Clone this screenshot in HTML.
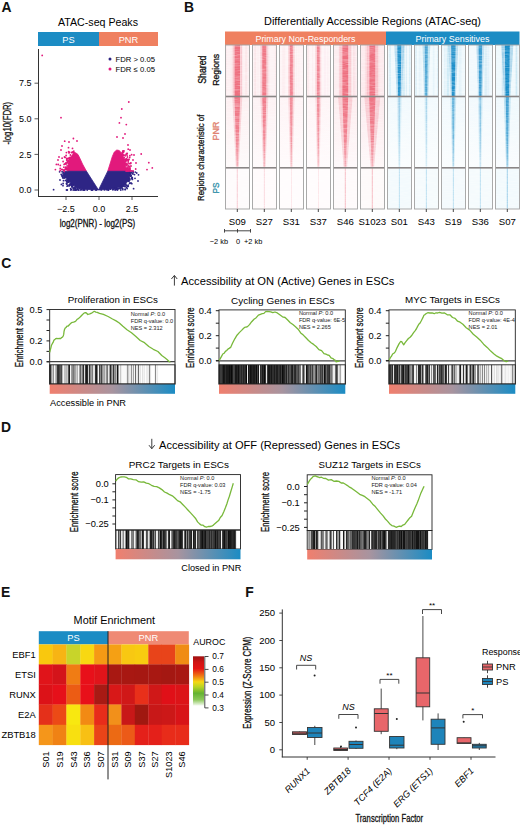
<!DOCTYPE html><html><head><meta charset="utf-8"><style>html,body{margin:0;padding:0;background:#fff;}svg{display:block;}text{font-family:"Liberation Sans",sans-serif;}</style></head><body>
<svg width="520" height="825" viewBox="0 0 520 825">
<defs>
<linearGradient id="gsea" x1="0" x2="1" y1="0" y2="0"><stop offset="0" stop-color="#f07f6e"/><stop offset="0.5" stop-color="#a8949f"/><stop offset="1" stop-color="#1b8cc4"/></linearGradient>
<linearGradient id="cbar" x1="0" x2="0" y1="0" y2="1"><stop offset="0" stop-color="#9e1212"/><stop offset="0.12" stop-color="#d01414"/><stop offset="0.25" stop-color="#e41414"/><stop offset="0.4" stop-color="#f07a14"/><stop offset="0.52" stop-color="#f5d814"/><stop offset="0.62" stop-color="#b8d424"/><stop offset="0.75" stop-color="#64b232"/><stop offset="0.88" stop-color="#8cc85a"/><stop offset="1" stop-color="#f4faf0"/></linearGradient>
<filter id="sblur" x="-0.2" y="-0.05" width="1.4" height="1.1"><feGaussianBlur stdDeviation="0.55 0.3"/></filter>
<filter id="nz0" x="0" y="0" width="1" height="1" filterUnits="objectBoundingBox"><feTurbulence type="fractalNoise" baseFrequency="0.12 0.9" numOctaves="2" seed="1" result="t"/><feColorMatrix in="t" type="matrix" values="0 0 0 0 1  0 0 0 0 1  0 0 0 0 1  0.7 0 0 0 -0.27"/></filter>
<filter id="nz1" x="0" y="0" width="1" height="1" filterUnits="objectBoundingBox"><feTurbulence type="fractalNoise" baseFrequency="0.12 0.9" numOctaves="2" seed="8" result="t"/><feColorMatrix in="t" type="matrix" values="0 0 0 0 1  0 0 0 0 1  0 0 0 0 1  0.7 0 0 0 -0.27"/></filter>
<filter id="nz2" x="0" y="0" width="1" height="1" filterUnits="objectBoundingBox"><feTurbulence type="fractalNoise" baseFrequency="0.12 0.9" numOctaves="2" seed="15" result="t"/><feColorMatrix in="t" type="matrix" values="0 0 0 0 1  0 0 0 0 1  0 0 0 0 1  0.7 0 0 0 -0.27"/></filter>
</defs>
<rect width="520" height="825" fill="#fff"/>
<text x="1.5" y="11.6" font-size="13.9" fill="#111" font-weight="bold">A</text>
<text x="183.9" y="11.8" font-size="13.9" fill="#111" font-weight="bold">B</text>
<text x="1.3" y="267.6" font-size="13.9" fill="#111" font-weight="bold">C</text>
<text x="1.1" y="431.5" font-size="13.9" fill="#111" font-weight="bold">D</text>
<text x="1.1" y="596.7" font-size="13.9" fill="#111" font-weight="bold">E</text>
<text x="245.2" y="596.7" font-size="13.9" fill="#111" font-weight="bold">F</text>
<text x="58" y="26" font-size="10.6" textLength="80" lengthAdjust="spacingAndGlyphs">ATAC-seq Peaks</text>
<rect x="38" y="32" width="61" height="14" fill="#1c8cc4"/>
<rect x="99" y="32" width="59" height="14" fill="#ef8060"/>
<text x="68.5" y="42.5" font-size="9.3" text-anchor="middle" fill="#fff">PS</text>
<text x="128.5" y="42.5" font-size="9.3" text-anchor="middle" fill="#fff">PNR</text>
<line x1="38.5" y1="49" x2="38.5" y2="197" stroke="#333" stroke-width="1"/>
<line x1="38" y1="196.5" x2="158" y2="196.5" stroke="#333" stroke-width="1"/>
<line x1="34.5" y1="190" x2="38.5" y2="190" stroke="#333" stroke-width="0.8"/>
<text x="31.5" y="193.2" font-size="9" text-anchor="end">0.0</text>
<line x1="34.5" y1="154.4" x2="38.5" y2="154.4" stroke="#333" stroke-width="0.8"/>
<text x="31.5" y="157.6" font-size="9" text-anchor="end">2.5</text>
<line x1="34.5" y1="118.8" x2="38.5" y2="118.8" stroke="#333" stroke-width="0.8"/>
<text x="31.5" y="122" font-size="9" text-anchor="end">5.0</text>
<line x1="34.5" y1="83.2" x2="38.5" y2="83.2" stroke="#333" stroke-width="0.8"/>
<text x="31.5" y="86.4" font-size="9" text-anchor="end">7.5</text>
<line x1="66" y1="196.5" x2="66" y2="200" stroke="#333" stroke-width="0.8"/>
<text x="66" y="211.7" font-size="9" text-anchor="middle">−2.5</text>
<line x1="99" y1="196.5" x2="99" y2="200" stroke="#333" stroke-width="0.8"/>
<text x="99" y="211.7" font-size="9" text-anchor="middle">0.0</text>
<line x1="132" y1="196.5" x2="132" y2="200" stroke="#333" stroke-width="0.8"/>
<text x="132" y="211.7" font-size="9" text-anchor="middle">2.5</text>
<text x="11.2" y="144.5" font-size="10.6" textLength="42.7" lengthAdjust="spacingAndGlyphs" transform="rotate(-90 11.2 144.5)" stroke="#222" stroke-width="0.3">-log10(FDR)</text>
<text x="97.5" y="227.3" font-size="10" text-anchor="middle" textLength="75.6" lengthAdjust="spacingAndGlyphs" stroke="#222" stroke-width="0.3">log2(PNR) - log2(PS)</text>
<circle cx="110" cy="59" r="1.5" fill="#2d2480"/>
<circle cx="110" cy="69" r="1.5" fill="#e2197c"/>
<text x="115.5" y="61.8" font-size="7.7" textLength="39.5" lengthAdjust="spacingAndGlyphs">FDR &gt; 0.05</text>
<text x="115.5" y="71.8" font-size="7.7" textLength="39.5" lengthAdjust="spacingAndGlyphs">FDR ≤ 0.05</text>
<polygon points="86.5,171.3 82.5,164 80,158.5 78,154.5 76,153 73.5,153.5 71,156.5 69,161 67.8,166 67.3,171.3" fill="#e2197c" stroke="#e2197c" stroke-width="0.8" stroke-linejoin="round"/>
<polygon points="64,171.3 86.5,171.3 98.5,190 83,189.2 76,187 71,183.5 67,179 64.8,175" fill="#2e2585" stroke="#2e2585" stroke-width="0.8" stroke-linejoin="round"/>
<polygon points="107.7,171.3 110.3,163 112.3,156.5 114.3,152 116.8,150 119.3,150.5 121.8,153.5 124,158.5 125.6,164.5 126.3,171.3" fill="#e2197c" stroke="#e2197c" stroke-width="0.8" stroke-linejoin="round"/>
<polygon points="98.5,190 107.7,171.3 130,171.3 130,176 128.3,181 124,185 117,188 108,189.5" fill="#2e2585" stroke="#2e2585" stroke-width="0.8" stroke-linejoin="round"/>
<circle cx="60.3" cy="165.4" r="0.9" fill="#e2197c"/>
<circle cx="73.9" cy="188.8" r="0.9" fill="#2e2585"/>
<circle cx="64.1" cy="164.4" r="0.9" fill="#e2197c"/>
<circle cx="69.4" cy="159.3" r="0.9" fill="#e2197c"/>
<circle cx="62.1" cy="171.7" r="0.9" fill="#2e2585"/>
<circle cx="64.5" cy="157" r="0.9" fill="#e2197c"/>
<circle cx="62.1" cy="158.2" r="0.9" fill="#e2197c"/>
<circle cx="63.9" cy="167.2" r="0.9" fill="#e2197c"/>
<circle cx="67.1" cy="165.9" r="0.9" fill="#e2197c"/>
<circle cx="68.4" cy="161" r="0.9" fill="#e2197c"/>
<circle cx="65.1" cy="157.4" r="0.9" fill="#e2197c"/>
<circle cx="67.3" cy="169.3" r="0.9" fill="#e2197c"/>
<circle cx="66.4" cy="169.1" r="0.9" fill="#e2197c"/>
<circle cx="74.8" cy="152.9" r="0.9" fill="#e2197c"/>
<circle cx="72.6" cy="184.8" r="0.9" fill="#2e2585"/>
<circle cx="73.5" cy="152.6" r="0.9" fill="#e2197c"/>
<circle cx="65.9" cy="177.6" r="0.9" fill="#2e2585"/>
<circle cx="66.7" cy="158.4" r="0.9" fill="#e2197c"/>
<circle cx="64.5" cy="174.8" r="0.9" fill="#2e2585"/>
<circle cx="92.6" cy="189.8" r="0.9" fill="#2e2585"/>
<circle cx="65.2" cy="163.7" r="0.9" fill="#e2197c"/>
<circle cx="63.1" cy="161.5" r="0.9" fill="#e2197c"/>
<circle cx="59.6" cy="171.8" r="0.9" fill="#2e2585"/>
<circle cx="92.3" cy="189.8" r="0.9" fill="#2e2585"/>
<circle cx="75.8" cy="186.9" r="0.9" fill="#2e2585"/>
<circle cx="67.9" cy="185.2" r="0.9" fill="#2e2585"/>
<circle cx="70.4" cy="155" r="0.9" fill="#e2197c"/>
<circle cx="66.7" cy="184" r="0.9" fill="#2e2585"/>
<circle cx="71.1" cy="184" r="0.9" fill="#2e2585"/>
<circle cx="66.7" cy="183.1" r="0.9" fill="#2e2585"/>
<circle cx="61.4" cy="184.4" r="0.9" fill="#2e2585"/>
<circle cx="63.7" cy="170.2" r="0.9" fill="#e2197c"/>
<circle cx="68" cy="161.2" r="0.9" fill="#e2197c"/>
<circle cx="77.6" cy="188.7" r="0.9" fill="#2e2585"/>
<circle cx="66.8" cy="180.1" r="0.9" fill="#2e2585"/>
<circle cx="73" cy="152.7" r="0.9" fill="#e2197c"/>
<circle cx="68.6" cy="151.7" r="0.9" fill="#e2197c"/>
<circle cx="74.8" cy="188" r="0.9" fill="#2e2585"/>
<circle cx="60.2" cy="168.4" r="0.9" fill="#e2197c"/>
<circle cx="68.5" cy="161.1" r="0.9" fill="#e2197c"/>
<circle cx="67.4" cy="170.3" r="0.9" fill="#e2197c"/>
<circle cx="64.2" cy="169.9" r="0.9" fill="#e2197c"/>
<circle cx="83.9" cy="189.3" r="0.9" fill="#2e2585"/>
<circle cx="68.8" cy="182" r="0.9" fill="#2e2585"/>
<circle cx="66.4" cy="163.9" r="0.9" fill="#e2197c"/>
<circle cx="69.6" cy="184.8" r="0.9" fill="#2e2585"/>
<circle cx="66.7" cy="168.6" r="0.9" fill="#e2197c"/>
<circle cx="68" cy="180.9" r="0.9" fill="#2e2585"/>
<circle cx="61.9" cy="174.9" r="0.9" fill="#2e2585"/>
<circle cx="69.5" cy="152.2" r="0.9" fill="#e2197c"/>
<circle cx="63.1" cy="183.5" r="0.9" fill="#2e2585"/>
<circle cx="77.9" cy="188.1" r="0.9" fill="#2e2585"/>
<circle cx="83" cy="189.8" r="0.9" fill="#2e2585"/>
<circle cx="64.3" cy="178" r="0.9" fill="#2e2585"/>
<circle cx="64.2" cy="175.3" r="0.9" fill="#2e2585"/>
<circle cx="68.8" cy="181.8" r="0.9" fill="#2e2585"/>
<circle cx="73.1" cy="187.9" r="0.9" fill="#2e2585"/>
<circle cx="67.1" cy="162.6" r="0.9" fill="#e2197c"/>
<circle cx="66.5" cy="183.6" r="0.9" fill="#2e2585"/>
<circle cx="63" cy="175.8" r="0.9" fill="#2e2585"/>
<circle cx="67.9" cy="182.3" r="0.9" fill="#2e2585"/>
<circle cx="63.1" cy="178.1" r="0.9" fill="#2e2585"/>
<circle cx="66.1" cy="155.5" r="0.9" fill="#e2197c"/>
<circle cx="69.6" cy="158" r="0.9" fill="#e2197c"/>
<circle cx="72.5" cy="148.4" r="0.9" fill="#e2197c"/>
<circle cx="65.6" cy="167.2" r="0.9" fill="#e2197c"/>
<circle cx="61.2" cy="174.4" r="0.9" fill="#2e2585"/>
<circle cx="75.7" cy="188.5" r="0.9" fill="#2e2585"/>
<circle cx="71.7" cy="184.3" r="0.9" fill="#2e2585"/>
<circle cx="67.1" cy="168.6" r="0.9" fill="#e2197c"/>
<circle cx="67.5" cy="158.6" r="0.9" fill="#e2197c"/>
<circle cx="72.7" cy="152.2" r="0.9" fill="#e2197c"/>
<circle cx="81.2" cy="189.4" r="0.9" fill="#2e2585"/>
<circle cx="69" cy="152.9" r="0.9" fill="#e2197c"/>
<circle cx="66.7" cy="160" r="0.9" fill="#e2197c"/>
<circle cx="68.3" cy="163.2" r="0.9" fill="#e2197c"/>
<circle cx="71" cy="185.2" r="0.9" fill="#2e2585"/>
<circle cx="64" cy="176.8" r="0.9" fill="#2e2585"/>
<circle cx="67.4" cy="179.6" r="0.9" fill="#2e2585"/>
<circle cx="70.7" cy="183.9" r="0.9" fill="#2e2585"/>
<circle cx="73.1" cy="152" r="0.9" fill="#e2197c"/>
<circle cx="70.6" cy="188.6" r="0.9" fill="#2e2585"/>
<circle cx="66" cy="168.5" r="0.9" fill="#e2197c"/>
<circle cx="65.1" cy="175.9" r="0.9" fill="#2e2585"/>
<circle cx="67.3" cy="169.1" r="0.9" fill="#e2197c"/>
<circle cx="66.9" cy="167.3" r="0.9" fill="#e2197c"/>
<circle cx="67.1" cy="186.2" r="0.9" fill="#2e2585"/>
<circle cx="69.7" cy="184.5" r="0.9" fill="#2e2585"/>
<circle cx="68.1" cy="181.9" r="0.9" fill="#2e2585"/>
<circle cx="65.9" cy="162.9" r="0.9" fill="#e2197c"/>
<circle cx="58.2" cy="164.5" r="0.9" fill="#e2197c"/>
<circle cx="78" cy="187.8" r="0.9" fill="#2e2585"/>
<circle cx="64.5" cy="176.9" r="0.9" fill="#2e2585"/>
<circle cx="73.4" cy="188.2" r="0.9" fill="#2e2585"/>
<circle cx="72.5" cy="185.9" r="0.9" fill="#2e2585"/>
<circle cx="72.1" cy="187" r="0.9" fill="#2e2585"/>
<circle cx="71.2" cy="189.3" r="0.9" fill="#2e2585"/>
<circle cx="66.4" cy="152.6" r="0.9" fill="#e2197c"/>
<circle cx="62.2" cy="169.6" r="0.9" fill="#e2197c"/>
<circle cx="68.5" cy="147.7" r="0.9" fill="#e2197c"/>
<circle cx="65.5" cy="180.4" r="0.9" fill="#2e2585"/>
<circle cx="70" cy="157.4" r="0.9" fill="#e2197c"/>
<circle cx="79.5" cy="188.3" r="0.9" fill="#2e2585"/>
<circle cx="69.5" cy="185.3" r="0.9" fill="#2e2585"/>
<circle cx="67.2" cy="162" r="0.9" fill="#e2197c"/>
<circle cx="72.7" cy="185.1" r="0.9" fill="#2e2585"/>
<circle cx="65.7" cy="177.4" r="0.9" fill="#2e2585"/>
<circle cx="66.7" cy="181.7" r="0.9" fill="#2e2585"/>
<circle cx="65" cy="164.1" r="0.9" fill="#e2197c"/>
<circle cx="68.2" cy="181.1" r="0.9" fill="#2e2585"/>
<circle cx="61.8" cy="169.3" r="0.9" fill="#e2197c"/>
<circle cx="68.3" cy="161.2" r="0.9" fill="#e2197c"/>
<circle cx="60.2" cy="170.5" r="0.9" fill="#e2197c"/>
<circle cx="76.9" cy="187.8" r="0.9" fill="#2e2585"/>
<circle cx="64.9" cy="177.2" r="0.9" fill="#2e2585"/>
<circle cx="71.6" cy="152.5" r="0.9" fill="#e2197c"/>
<circle cx="70.5" cy="183.7" r="0.9" fill="#2e2585"/>
<circle cx="63" cy="185.7" r="0.9" fill="#2e2585"/>
<circle cx="96.3" cy="190" r="0.9" fill="#2e2585"/>
<circle cx="72.5" cy="186.2" r="0.9" fill="#2e2585"/>
<circle cx="65.9" cy="169.6" r="0.9" fill="#e2197c"/>
<circle cx="72.5" cy="184.8" r="0.9" fill="#2e2585"/>
<circle cx="68.4" cy="158.5" r="0.9" fill="#e2197c"/>
<circle cx="72.5" cy="185.6" r="0.9" fill="#2e2585"/>
<circle cx="64.4" cy="174.5" r="0.9" fill="#2e2585"/>
<circle cx="73.6" cy="152.7" r="0.9" fill="#e2197c"/>
<circle cx="69" cy="186.1" r="0.9" fill="#2e2585"/>
<circle cx="75.1" cy="186.7" r="0.9" fill="#2e2585"/>
<circle cx="95.7" cy="189.9" r="0.9" fill="#2e2585"/>
<circle cx="62.7" cy="177.5" r="0.9" fill="#2e2585"/>
<circle cx="68" cy="180.7" r="0.9" fill="#2e2585"/>
<circle cx="71.7" cy="186.6" r="0.9" fill="#2e2585"/>
<circle cx="63.5" cy="180.7" r="0.9" fill="#2e2585"/>
<circle cx="64.4" cy="174.2" r="0.9" fill="#2e2585"/>
<circle cx="68.7" cy="158.4" r="0.9" fill="#e2197c"/>
<circle cx="72.4" cy="185" r="0.9" fill="#2e2585"/>
<circle cx="64.3" cy="171.3" r="0.9" fill="#e2197c"/>
<circle cx="66.9" cy="159.9" r="0.9" fill="#e2197c"/>
<circle cx="81.1" cy="188.8" r="0.9" fill="#2e2585"/>
<circle cx="70.3" cy="158" r="0.9" fill="#e2197c"/>
<circle cx="72.5" cy="185.1" r="0.9" fill="#2e2585"/>
<circle cx="77.2" cy="189.4" r="0.9" fill="#2e2585"/>
<circle cx="75.6" cy="189.6" r="0.9" fill="#2e2585"/>
<circle cx="74.7" cy="187.8" r="0.9" fill="#2e2585"/>
<circle cx="67.3" cy="179.5" r="0.9" fill="#2e2585"/>
<circle cx="63.7" cy="175" r="0.9" fill="#2e2585"/>
<circle cx="73.8" cy="151.2" r="0.9" fill="#e2197c"/>
<circle cx="65.3" cy="168.9" r="0.9" fill="#e2197c"/>
<circle cx="63.1" cy="173.5" r="0.9" fill="#2e2585"/>
<circle cx="62.6" cy="176.6" r="0.9" fill="#2e2585"/>
<circle cx="131.5" cy="170.8" r="0.9" fill="#e2197c"/>
<circle cx="129" cy="179.6" r="0.9" fill="#2e2585"/>
<circle cx="130.2" cy="170.1" r="0.9" fill="#e2197c"/>
<circle cx="121.3" cy="186.3" r="0.9" fill="#2e2585"/>
<circle cx="127.7" cy="168.2" r="0.9" fill="#e2197c"/>
<circle cx="115.9" cy="189.5" r="0.9" fill="#2e2585"/>
<circle cx="117.3" cy="189.1" r="0.9" fill="#2e2585"/>
<circle cx="117.3" cy="188.9" r="0.9" fill="#2e2585"/>
<circle cx="129.2" cy="170.5" r="0.9" fill="#e2197c"/>
<circle cx="125.1" cy="161" r="0.9" fill="#e2197c"/>
<circle cx="130.7" cy="175.7" r="0.9" fill="#2e2585"/>
<circle cx="116.4" cy="189.1" r="0.9" fill="#2e2585"/>
<circle cx="131.1" cy="175.6" r="0.9" fill="#2e2585"/>
<circle cx="128.8" cy="169.5" r="0.9" fill="#e2197c"/>
<circle cx="126.3" cy="168.3" r="0.9" fill="#e2197c"/>
<circle cx="101.3" cy="189.9" r="0.9" fill="#2e2585"/>
<circle cx="130" cy="167.8" r="0.9" fill="#e2197c"/>
<circle cx="122.5" cy="154.9" r="0.9" fill="#e2197c"/>
<circle cx="125.2" cy="155.8" r="0.9" fill="#e2197c"/>
<circle cx="124.4" cy="184.8" r="0.9" fill="#2e2585"/>
<circle cx="128.1" cy="160.5" r="0.9" fill="#e2197c"/>
<circle cx="129.9" cy="155.7" r="0.9" fill="#e2197c"/>
<circle cx="126" cy="154.6" r="0.9" fill="#e2197c"/>
<circle cx="130.2" cy="174" r="0.9" fill="#2e2585"/>
<circle cx="127.4" cy="186.4" r="0.9" fill="#2e2585"/>
<circle cx="117" cy="189.3" r="0.9" fill="#2e2585"/>
<circle cx="127.1" cy="169.7" r="0.9" fill="#e2197c"/>
<circle cx="113" cy="189.4" r="0.9" fill="#2e2585"/>
<circle cx="129" cy="170" r="0.9" fill="#e2197c"/>
<circle cx="128.6" cy="180.9" r="0.9" fill="#2e2585"/>
<circle cx="124.9" cy="186.5" r="0.9" fill="#2e2585"/>
<circle cx="129.3" cy="163.6" r="0.9" fill="#e2197c"/>
<circle cx="135.3" cy="172.1" r="0.9" fill="#2e2585"/>
<circle cx="128.4" cy="166" r="0.9" fill="#e2197c"/>
<circle cx="110.5" cy="189.2" r="0.9" fill="#2e2585"/>
<circle cx="114.9" cy="188.5" r="0.9" fill="#2e2585"/>
<circle cx="133" cy="174" r="0.9" fill="#2e2585"/>
<circle cx="134.5" cy="174.6" r="0.9" fill="#2e2585"/>
<circle cx="121.3" cy="186.7" r="0.9" fill="#2e2585"/>
<circle cx="127.8" cy="170.3" r="0.9" fill="#e2197c"/>
<circle cx="126.3" cy="165.1" r="0.9" fill="#e2197c"/>
<circle cx="118.4" cy="188.6" r="0.9" fill="#2e2585"/>
<circle cx="125.8" cy="160.3" r="0.9" fill="#e2197c"/>
<circle cx="127" cy="168.1" r="0.9" fill="#e2197c"/>
<circle cx="128" cy="163.8" r="0.9" fill="#e2197c"/>
<circle cx="121.7" cy="187.3" r="0.9" fill="#2e2585"/>
<circle cx="129.7" cy="180" r="0.9" fill="#2e2585"/>
<circle cx="121.4" cy="187.9" r="0.9" fill="#2e2585"/>
<circle cx="117.2" cy="188.4" r="0.9" fill="#2e2585"/>
<circle cx="129.7" cy="179.3" r="0.9" fill="#2e2585"/>
<circle cx="114.9" cy="188.7" r="0.9" fill="#2e2585"/>
<circle cx="125.7" cy="183.9" r="0.9" fill="#2e2585"/>
<circle cx="131.8" cy="183.7" r="0.9" fill="#2e2585"/>
<circle cx="125.8" cy="159.4" r="0.9" fill="#e2197c"/>
<circle cx="127.1" cy="155.1" r="0.9" fill="#e2197c"/>
<circle cx="116.4" cy="189" r="0.9" fill="#2e2585"/>
<circle cx="130.5" cy="163.5" r="0.9" fill="#e2197c"/>
<circle cx="104.5" cy="189.8" r="0.9" fill="#2e2585"/>
<circle cx="126.7" cy="159" r="0.9" fill="#e2197c"/>
<circle cx="113.7" cy="188.8" r="0.9" fill="#2e2585"/>
<circle cx="116.2" cy="189.3" r="0.9" fill="#2e2585"/>
<circle cx="125.1" cy="186.1" r="0.9" fill="#2e2585"/>
<circle cx="112.8" cy="189.7" r="0.9" fill="#2e2585"/>
<circle cx="129.1" cy="167.9" r="0.9" fill="#e2197c"/>
<circle cx="126.4" cy="187.4" r="0.9" fill="#2e2585"/>
<circle cx="129.6" cy="169" r="0.9" fill="#e2197c"/>
<circle cx="128.2" cy="149.2" r="0.9" fill="#e2197c"/>
<circle cx="125.9" cy="164.4" r="0.9" fill="#e2197c"/>
<circle cx="126.9" cy="185.6" r="0.9" fill="#2e2585"/>
<circle cx="129" cy="159.4" r="0.9" fill="#e2197c"/>
<circle cx="125.9" cy="163.2" r="0.9" fill="#e2197c"/>
<circle cx="131.6" cy="154.7" r="0.9" fill="#e2197c"/>
<circle cx="108.1" cy="189.8" r="0.9" fill="#2e2585"/>
<circle cx="121.4" cy="186.3" r="0.9" fill="#2e2585"/>
<circle cx="128.8" cy="181.3" r="0.9" fill="#2e2585"/>
<circle cx="125.3" cy="161.3" r="0.9" fill="#e2197c"/>
<circle cx="129.7" cy="157.5" r="0.9" fill="#e2197c"/>
<circle cx="135.7" cy="169" r="0.9" fill="#e2197c"/>
<circle cx="124.6" cy="159.4" r="0.9" fill="#e2197c"/>
<circle cx="120.7" cy="186.9" r="0.9" fill="#2e2585"/>
<circle cx="113.4" cy="188.7" r="0.9" fill="#2e2585"/>
<circle cx="116.6" cy="189.1" r="0.9" fill="#2e2585"/>
<circle cx="119.6" cy="186.9" r="0.9" fill="#2e2585"/>
<circle cx="129.7" cy="166.4" r="0.9" fill="#e2197c"/>
<circle cx="129.3" cy="178.7" r="0.9" fill="#2e2585"/>
<circle cx="128.3" cy="159.6" r="0.9" fill="#e2197c"/>
<circle cx="130.4" cy="174.4" r="0.9" fill="#2e2585"/>
<circle cx="126.5" cy="168.8" r="0.9" fill="#e2197c"/>
<circle cx="122.8" cy="152.1" r="0.9" fill="#e2197c"/>
<circle cx="130.9" cy="162.9" r="0.9" fill="#e2197c"/>
<circle cx="121.6" cy="186.4" r="0.9" fill="#2e2585"/>
<circle cx="125.2" cy="189.2" r="0.9" fill="#2e2585"/>
<circle cx="132.4" cy="179.4" r="0.9" fill="#2e2585"/>
<circle cx="133.2" cy="172" r="0.9" fill="#2e2585"/>
<circle cx="127" cy="165.8" r="0.9" fill="#e2197c"/>
<circle cx="129.7" cy="183.4" r="0.9" fill="#2e2585"/>
<circle cx="126.3" cy="170.9" r="0.9" fill="#e2197c"/>
<circle cx="117.4" cy="189" r="0.9" fill="#2e2585"/>
<circle cx="122.2" cy="186.3" r="0.9" fill="#2e2585"/>
<circle cx="124.2" cy="157.7" r="0.9" fill="#e2197c"/>
<circle cx="130.2" cy="173.3" r="0.9" fill="#2e2585"/>
<circle cx="128.1" cy="167.1" r="0.9" fill="#e2197c"/>
<circle cx="123.7" cy="186" r="0.9" fill="#2e2585"/>
<circle cx="127.4" cy="157" r="0.9" fill="#e2197c"/>
<circle cx="123.4" cy="155.5" r="0.9" fill="#e2197c"/>
<circle cx="122.5" cy="185.7" r="0.9" fill="#2e2585"/>
<circle cx="116.1" cy="188.7" r="0.9" fill="#2e2585"/>
<circle cx="126.1" cy="185.2" r="0.9" fill="#2e2585"/>
<circle cx="130.9" cy="176.3" r="0.9" fill="#2e2585"/>
<circle cx="122.2" cy="152.8" r="0.9" fill="#e2197c"/>
<circle cx="127.1" cy="164.3" r="0.9" fill="#e2197c"/>
<circle cx="126.1" cy="169" r="0.9" fill="#e2197c"/>
<circle cx="115.5" cy="188.5" r="0.9" fill="#2e2585"/>
<circle cx="132.3" cy="173.3" r="0.9" fill="#2e2585"/>
<circle cx="133" cy="171.4" r="0.9" fill="#2e2585"/>
<circle cx="119.8" cy="188.6" r="0.9" fill="#2e2585"/>
<circle cx="127.2" cy="159.6" r="0.9" fill="#e2197c"/>
<circle cx="120.6" cy="187.4" r="0.9" fill="#2e2585"/>
<circle cx="125.6" cy="163.5" r="0.9" fill="#e2197c"/>
<circle cx="125.5" cy="184.2" r="0.9" fill="#2e2585"/>
<circle cx="122.6" cy="188.4" r="0.9" fill="#2e2585"/>
<circle cx="131.4" cy="178.5" r="0.9" fill="#2e2585"/>
<circle cx="132.2" cy="177.7" r="0.9" fill="#2e2585"/>
<circle cx="128.6" cy="181.1" r="0.9" fill="#2e2585"/>
<circle cx="130.5" cy="173" r="0.9" fill="#2e2585"/>
<circle cx="128.2" cy="185.1" r="0.9" fill="#2e2585"/>
<circle cx="128.8" cy="171" r="0.9" fill="#e2197c"/>
<circle cx="123.6" cy="152.1" r="0.9" fill="#e2197c"/>
<circle cx="131.5" cy="172.4" r="0.9" fill="#2e2585"/>
<circle cx="128.2" cy="186.3" r="0.9" fill="#2e2585"/>
<circle cx="127.1" cy="188.5" r="0.9" fill="#2e2585"/>
<circle cx="122.7" cy="151.8" r="0.9" fill="#e2197c"/>
<circle cx="120.6" cy="186.9" r="0.9" fill="#2e2585"/>
<circle cx="125.9" cy="161.2" r="0.9" fill="#e2197c"/>
<circle cx="126.2" cy="158.8" r="0.9" fill="#e2197c"/>
<circle cx="108.3" cy="189.9" r="0.9" fill="#2e2585"/>
<circle cx="128.2" cy="162" r="0.9" fill="#e2197c"/>
<circle cx="133.6" cy="188.7" r="0.9" fill="#2e2585"/>
<circle cx="130.7" cy="175.8" r="0.9" fill="#2e2585"/>
<circle cx="122.8" cy="189.7" r="0.9" fill="#2e2585"/>
<circle cx="127.4" cy="171" r="0.9" fill="#e2197c"/>
<circle cx="128.3" cy="160.4" r="0.9" fill="#e2197c"/>
<circle cx="127.2" cy="153.3" r="0.9" fill="#e2197c"/>
<circle cx="130.5" cy="174.1" r="0.9" fill="#2e2585"/>
<circle cx="122.8" cy="154.4" r="0.9" fill="#e2197c"/>
<circle cx="125.2" cy="189.7" r="0.9" fill="#2e2585"/>
<circle cx="124.2" cy="155.1" r="0.9" fill="#e2197c"/>
<circle cx="126.3" cy="170.9" r="0.9" fill="#e2197c"/>
<circle cx="122.9" cy="151.2" r="0.9" fill="#e2197c"/>
<circle cx="123.2" cy="150.8" r="0.9" fill="#e2197c"/>
<circle cx="130.5" cy="175.2" r="0.9" fill="#2e2585"/>
<circle cx="124" cy="150.9" r="0.9" fill="#e2197c"/>
<circle cx="127" cy="168.4" r="0.9" fill="#e2197c"/>
<circle cx="118.1" cy="188.5" r="0.9" fill="#2e2585"/>
<circle cx="126.3" cy="164.2" r="0.9" fill="#e2197c"/>
<circle cx="128.9" cy="169.3" r="0.9" fill="#e2197c"/>
<circle cx="132.3" cy="178.2" r="0.9" fill="#2e2585"/>
<circle cx="130.4" cy="171.2" r="0.9" fill="#e2197c"/>
<circle cx="122.6" cy="154" r="0.9" fill="#e2197c"/>
<circle cx="129.8" cy="183.2" r="0.9" fill="#2e2585"/>
<circle cx="130.2" cy="174.3" r="0.9" fill="#2e2585"/>
<circle cx="123.2" cy="185.8" r="0.9" fill="#2e2585"/>
<circle cx="126.4" cy="160.2" r="0.9" fill="#e2197c"/>
<circle cx="106.6" cy="189.7" r="0.9" fill="#2e2585"/>
<circle cx="127.9" cy="168.8" r="0.9" fill="#e2197c"/>
<circle cx="122.5" cy="152.6" r="0.9" fill="#e2197c"/>
<circle cx="126.5" cy="153.7" r="0.9" fill="#e2197c"/>
<circle cx="130" cy="168.9" r="0.9" fill="#e2197c"/>
<circle cx="120.4" cy="188" r="0.9" fill="#2e2585"/>
<circle cx="132.2" cy="177.7" r="0.9" fill="#2e2585"/>
<circle cx="67.3" cy="190" r="0.9" fill="#2e2585"/>
<circle cx="75.5" cy="190" r="0.9" fill="#2e2585"/>
<circle cx="120.8" cy="190" r="0.9" fill="#2e2585"/>
<circle cx="84.2" cy="190" r="0.9" fill="#2e2585"/>
<circle cx="80.9" cy="190" r="0.9" fill="#2e2585"/>
<circle cx="117.5" cy="190" r="0.9" fill="#2e2585"/>
<circle cx="66.5" cy="190" r="0.9" fill="#2e2585"/>
<circle cx="83.3" cy="190" r="0.9" fill="#2e2585"/>
<circle cx="78.9" cy="190" r="0.9" fill="#2e2585"/>
<circle cx="108.5" cy="190" r="0.9" fill="#2e2585"/>
<circle cx="87.2" cy="190" r="0.9" fill="#2e2585"/>
<circle cx="115.1" cy="190" r="0.9" fill="#2e2585"/>
<circle cx="84.7" cy="190" r="0.9" fill="#2e2585"/>
<circle cx="73.2" cy="190" r="0.9" fill="#2e2585"/>
<circle cx="91.9" cy="190" r="0.9" fill="#2e2585"/>
<circle cx="70.9" cy="190" r="0.9" fill="#2e2585"/>
<circle cx="74.7" cy="190" r="0.9" fill="#2e2585"/>
<circle cx="78.2" cy="190" r="0.9" fill="#2e2585"/>
<circle cx="76.2" cy="190" r="0.9" fill="#2e2585"/>
<circle cx="91.4" cy="190" r="0.9" fill="#2e2585"/>
<circle cx="42.2" cy="55.4" r="0.9" fill="#e2197c"/>
<circle cx="61" cy="117.7" r="0.9" fill="#e2197c"/>
<circle cx="128.8" cy="102" r="0.9" fill="#e2197c"/>
<circle cx="121.8" cy="109" r="0.9" fill="#e2197c"/>
<circle cx="121" cy="117.7" r="0.9" fill="#e2197c"/>
<circle cx="126.3" cy="124.6" r="0.9" fill="#e2197c"/>
<circle cx="119.4" cy="122.9" r="0.9" fill="#e2197c"/>
<circle cx="141.2" cy="154" r="0.9" fill="#e2197c"/>
<circle cx="148.8" cy="162.7" r="0.9" fill="#e2197c"/>
<circle cx="152.3" cy="167.9" r="0.9" fill="#e2197c"/>
<circle cx="147" cy="169.6" r="0.9" fill="#e2197c"/>
<circle cx="53.6" cy="189.7" r="0.9" fill="#2e2585"/>
<circle cx="63.3" cy="172.4" r="0.9" fill="#2e2585"/>
<circle cx="73.4" cy="138.5" r="0.9" fill="#e2197c"/>
<circle cx="64.7" cy="141.2" r="0.9" fill="#e2197c"/>
<circle cx="56.4" cy="164.4" r="0.9" fill="#e2197c"/>
<circle cx="55.4" cy="169.6" r="0.9" fill="#e2197c"/>
<circle cx="136.7" cy="173" r="0.9" fill="#2e2585"/>
<circle cx="138.5" cy="174.8" r="0.9" fill="#2e2585"/>
<circle cx="135" cy="178.3" r="0.9" fill="#2e2585"/>
<circle cx="125" cy="134" r="0.9" fill="#e2197c"/>
<circle cx="117" cy="137" r="0.9" fill="#e2197c"/>
<circle cx="130" cy="150" r="0.9" fill="#e2197c"/>
<circle cx="133" cy="160" r="0.9" fill="#e2197c"/>
<circle cx="136" cy="163" r="0.9" fill="#e2197c"/>
<circle cx="131" cy="166" r="0.9" fill="#e2197c"/>
<circle cx="58" cy="160" r="0.9" fill="#e2197c"/>
<circle cx="61" cy="150" r="0.9" fill="#e2197c"/>
<circle cx="69" cy="142" r="0.9" fill="#e2197c"/>
<circle cx="77" cy="141" r="0.9" fill="#e2197c"/>
<circle cx="62" cy="176" r="0.9" fill="#2e2585"/>
<circle cx="133" cy="171" r="0.9" fill="#e2197c"/>
<circle cx="138" cy="181" r="0.9" fill="#2e2585"/>
<circle cx="131" cy="183" r="0.9" fill="#2e2585"/>
<circle cx="60" cy="180" r="0.9" fill="#2e2585"/>
<circle cx="123" cy="138" r="0.9" fill="#e2197c"/>
<circle cx="128" cy="145" r="0.9" fill="#e2197c"/>
<circle cx="134" cy="155" r="0.9" fill="#e2197c"/>
<circle cx="59" cy="157" r="0.9" fill="#e2197c"/>
<circle cx="62" cy="146" r="0.9" fill="#e2197c"/>
<text x="264" y="25.4" font-size="10.9" textLength="217" lengthAdjust="spacingAndGlyphs">Differentially Accessible Regions (ATAC-seq)</text>
<rect x="225" y="31.5" width="161" height="13.5" fill="#ef8060"/>
<rect x="386" y="31.5" width="133.5" height="13.5" fill="#1c8cc4"/>
<text x="305.5" y="41.6" font-size="8.9" text-anchor="middle" fill="#fff" textLength="100" lengthAdjust="spacingAndGlyphs">Primary Non-Responders</text>
<text x="452.5" y="41.6" font-size="8.9" text-anchor="middle" fill="#fff" textLength="74" lengthAdjust="spacingAndGlyphs">Primary Sensitives</text>
<text x="205.8" y="83.8" font-size="10" textLength="28.3" lengthAdjust="spacingAndGlyphs" transform="rotate(-90 205.8 83.8)" stroke="#222" stroke-width="0.3">Shared</text>
<text x="218.9" y="85.8" font-size="9.7" textLength="32" lengthAdjust="spacingAndGlyphs" transform="rotate(-90 218.9 85.8)" stroke="#222" stroke-width="0.3">Regions</text>
<text x="204.2" y="201" font-size="9.8" textLength="86.4" lengthAdjust="spacingAndGlyphs" transform="rotate(-90 204.2 201)" stroke="#222" stroke-width="0.3">Regions characteristic of</text>
<text x="218.8" y="140.5" font-size="9.2" fill="#e0806e" textLength="19" lengthAdjust="spacingAndGlyphs" transform="rotate(-90 218.8 140.5)" stroke="#e0806e" stroke-width="0.3">PNR</text>
<text x="218.8" y="193.5" font-size="9.2" fill="#2f8ea8" textLength="11" lengthAdjust="spacingAndGlyphs" transform="rotate(-90 218.8 193.5)" stroke="#2f8ea8" stroke-width="0.3">PS</text>
<rect x="225.5" y="45" width="24" height="51.5" fill="#fdf0f2"/>
<linearGradient id="v0" x1="0" x2="0" y1="0" y2="1"><stop offset="0" stop-color="#fdeff1"/><stop offset="1" stop-color="#fefafa"/></linearGradient>
<rect x="225.5" y="96.5" width="24" height="71.3" fill="url(#v0)"/>
<rect x="225.5" y="167.8" width="24" height="41.2" fill="#fefbfc"/>
<clipPath id="cc0"><rect x="225.5" y="45" width="24" height="164"/></clipPath>
<g clip-path="url(#cc0)"><g filter="url(#sblur)">
<rect x="236.3" y="45" width="1.7" height="51.5" fill="#ee7080" opacity="0.04"/>
<rect x="225.8" y="45" width="0.9" height="51.5" fill="#ee7080" opacity="0.07"/>
<rect x="241.3" y="45" width="1" height="51.5" fill="#ee7080" opacity="0.05"/>
<rect x="232.4" y="45" width="2.1" height="51.5" fill="#ee7080" opacity="0.05"/>
<rect x="241.6" y="45" width="0.9" height="51.5" fill="#ee7080" opacity="0.04"/>
<rect x="230.6" y="45" width="1.7" height="51.5" fill="#ee7080" opacity="0.06"/>
<rect x="245.1" y="45" width="2" height="51.5" fill="#ee7080" opacity="0.07"/>
<polygon points="232.6,45 242.1,45 242.1,96.5 232.6,96.5" fill="#ee7080" opacity="0.30"/>
<polygon points="234.6,45 240,45 240,96.5 234.6,96.5" fill="#ee7080" opacity="1.00"/>
<polygon points="232.3,96.5 242.3,96.5 238.8,166.8 235.8,166.8" fill="#ee7080" opacity="0.27"/>
<linearGradient id="wg0" x1="0" x2="0" y1="0" y2="1"><stop offset="0" stop-color="#ee7080" stop-opacity="0.95"/><stop offset="0.6" stop-color="#ee7080" stop-opacity="0.81"/><stop offset="1" stop-color="#ee7080" stop-opacity="0.38"/></linearGradient>
<polygon points="234.4,96.5 240.2,96.5 237.9,166.8 236.7,166.8" fill="url(#wg0)"/>
<rect x="236.8" y="167.8" width="1" height="41.2" fill="#ee7080" opacity="0.35"/>
</g></g>
<rect x="225.5" y="45" width="24" height="164" filter="url(#nz0)"/>
<line x1="225.5" y1="96.5" x2="249.5" y2="96.5" stroke="#8a8686" stroke-width="1.6"/>
<line x1="225.5" y1="167.8" x2="249.5" y2="167.8" stroke="#8a8686" stroke-width="1.6"/>
<rect x="225.5" y="45" width="24" height="164" fill="none" stroke="#a2a2a2" stroke-width="0.9"/>
<line x1="237.3" y1="209" x2="237.3" y2="212" stroke="#333" stroke-width="0.9"/>
<text x="237.3" y="225.2" font-size="9.6" text-anchor="middle">S09</text>
<rect x="252.5" y="45" width="24" height="51.5" fill="#fdf2f4"/>
<linearGradient id="v1" x1="0" x2="0" y1="0" y2="1"><stop offset="0" stop-color="#fdf1f3"/><stop offset="1" stop-color="#fefafb"/></linearGradient>
<rect x="252.5" y="96.5" width="24" height="71.3" fill="url(#v1)"/>
<rect x="252.5" y="167.8" width="24" height="41.2" fill="#fffbfc"/>
<clipPath id="cc1"><rect x="252.5" y="45" width="24" height="164"/></clipPath>
<g clip-path="url(#cc1)"><g filter="url(#sblur)">
<rect x="274.9" y="45" width="2.1" height="51.5" fill="#ee7080" opacity="0.07"/>
<rect x="254.5" y="45" width="1.4" height="51.5" fill="#ee7080" opacity="0.04"/>
<rect x="266.3" y="45" width="1.5" height="51.5" fill="#ee7080" opacity="0.03"/>
<rect x="254.3" y="45" width="1.5" height="51.5" fill="#ee7080" opacity="0.06"/>
<rect x="261.6" y="45" width="1.5" height="51.5" fill="#ee7080" opacity="0.06"/>
<rect x="268.2" y="45" width="1.8" height="51.5" fill="#ee7080" opacity="0.05"/>
<rect x="256.4" y="45" width="2" height="51.5" fill="#ee7080" opacity="0.03"/>
<polygon points="260.3,45 268.3,45 268.3,96.5 260.3,96.5" fill="#ee7080" opacity="0.28"/>
<polygon points="262.3,45 266.3,45 266.3,96.5 262.3,96.5" fill="#ee7080" opacity="0.92"/>
<polygon points="260.3,96.5 268.3,96.5 265.6,166.8 263.1,166.8" fill="#ee7080" opacity="0.25"/>
<linearGradient id="wg1" x1="0" x2="0" y1="0" y2="1"><stop offset="0" stop-color="#ee7080" stop-opacity="0.88"/><stop offset="0.6" stop-color="#ee7080" stop-opacity="0.75"/><stop offset="1" stop-color="#ee7080" stop-opacity="0.35"/></linearGradient>
<polygon points="262.3,96.5 266.3,96.5 264.8,166.8 263.8,166.8" fill="url(#wg1)"/>
<rect x="263.9" y="167.8" width="0.8" height="41.2" fill="#ee7080" opacity="0.30"/>
</g></g>
<rect x="252.5" y="45" width="24" height="164" filter="url(#nz1)"/>
<line x1="252.5" y1="96.5" x2="276.5" y2="96.5" stroke="#8a8686" stroke-width="1.6"/>
<line x1="252.5" y1="167.8" x2="276.5" y2="167.8" stroke="#8a8686" stroke-width="1.6"/>
<rect x="252.5" y="45" width="24" height="164" fill="none" stroke="#a2a2a2" stroke-width="0.9"/>
<line x1="264.3" y1="209" x2="264.3" y2="212" stroke="#333" stroke-width="0.9"/>
<text x="264.3" y="225.2" font-size="9.6" text-anchor="middle">S27</text>
<rect x="279.5" y="45" width="24" height="51.5" fill="#fef4f6"/>
<linearGradient id="v2" x1="0" x2="0" y1="0" y2="1"><stop offset="0" stop-color="#fef3f5"/><stop offset="1" stop-color="#fffbfc"/></linearGradient>
<rect x="279.5" y="96.5" width="24" height="71.3" fill="url(#v2)"/>
<rect x="279.5" y="167.8" width="24" height="41.2" fill="#fffcfd"/>
<clipPath id="cc2"><rect x="279.5" y="45" width="24" height="164"/></clipPath>
<g clip-path="url(#cc2)"><g filter="url(#sblur)">
<rect x="284.1" y="45" width="1.1" height="51.5" fill="#ee7080" opacity="0.05"/>
<rect x="293.5" y="45" width="0.9" height="51.5" fill="#ee7080" opacity="0.04"/>
<rect x="292.4" y="45" width="1.8" height="51.5" fill="#ee7080" opacity="0.03"/>
<rect x="295.9" y="45" width="1.2" height="51.5" fill="#ee7080" opacity="0.04"/>
<rect x="282.3" y="45" width="2" height="51.5" fill="#ee7080" opacity="0.05"/>
<rect x="297.8" y="45" width="1.5" height="51.5" fill="#ee7080" opacity="0.03"/>
<rect x="288.5" y="45" width="0.9" height="51.5" fill="#ee7080" opacity="0.03"/>
<polygon points="288.1,45 294.6,45 294.6,96.5 288.1,96.5" fill="#ee7080" opacity="0.26"/>
<polygon points="289.8,45 292.8,45 292.8,96.5 289.8,96.5" fill="#ee7080" opacity="0.85"/>
<polygon points="288.1,96.5 294.6,96.5 292.6,166.8 290.1,166.8" fill="#ee7080" opacity="0.22"/>
<linearGradient id="wg2" x1="0" x2="0" y1="0" y2="1"><stop offset="0" stop-color="#ee7080" stop-opacity="0.80"/><stop offset="0.6" stop-color="#ee7080" stop-opacity="0.68"/><stop offset="1" stop-color="#ee7080" stop-opacity="0.32"/></linearGradient>
<polygon points="289.8,96.5 292.8,96.5 291.7,166.8 290.9,166.8" fill="url(#wg2)"/>
<rect x="291" y="167.8" width="0.6" height="41.2" fill="#ee7080" opacity="0.25"/>
</g></g>
<rect x="279.5" y="45" width="24" height="164" filter="url(#nz2)"/>
<line x1="279.5" y1="96.5" x2="303.5" y2="96.5" stroke="#8a8686" stroke-width="1.6"/>
<line x1="279.5" y1="167.8" x2="303.5" y2="167.8" stroke="#8a8686" stroke-width="1.6"/>
<rect x="279.5" y="45" width="24" height="164" fill="none" stroke="#a2a2a2" stroke-width="0.9"/>
<line x1="291.3" y1="209" x2="291.3" y2="212" stroke="#333" stroke-width="0.9"/>
<text x="291.3" y="225.2" font-size="9.6" text-anchor="middle">S31</text>
<rect x="306.5" y="45" width="24" height="51.5" fill="#fef5f7"/>
<linearGradient id="v3" x1="0" x2="0" y1="0" y2="1"><stop offset="0" stop-color="#fef4f6"/><stop offset="1" stop-color="#fffbfc"/></linearGradient>
<rect x="306.5" y="96.5" width="24" height="71.3" fill="url(#v3)"/>
<rect x="306.5" y="167.8" width="24" height="41.2" fill="#fffcfd"/>
<clipPath id="cc3"><rect x="306.5" y="45" width="24" height="164"/></clipPath>
<g clip-path="url(#cc3)"><g filter="url(#sblur)">
<rect x="324.6" y="45" width="0.8" height="51.5" fill="#ee7080" opacity="0.04"/>
<rect x="307.4" y="45" width="1.9" height="51.5" fill="#ee7080" opacity="0.06"/>
<rect x="307.2" y="45" width="1.3" height="51.5" fill="#ee7080" opacity="0.06"/>
<rect x="312.1" y="45" width="1.2" height="51.5" fill="#ee7080" opacity="0.06"/>
<rect x="327.2" y="45" width="1.3" height="51.5" fill="#ee7080" opacity="0.04"/>
<rect x="324.4" y="45" width="1.3" height="51.5" fill="#ee7080" opacity="0.02"/>
<rect x="314.9" y="45" width="1.8" height="51.5" fill="#ee7080" opacity="0.05"/>
<polygon points="315.3,45 321.3,45 321.3,96.5 315.3,96.5" fill="#ee7080" opacity="0.24"/>
<polygon points="316.9,45 319.7,45 319.7,96.5 316.9,96.5" fill="#ee7080" opacity="0.80"/>
<polygon points="315.3,96.5 321.3,96.5 319.6,166.8 317.1,166.8" fill="#ee7080" opacity="0.22"/>
<linearGradient id="wg3" x1="0" x2="0" y1="0" y2="1"><stop offset="0" stop-color="#ee7080" stop-opacity="0.78"/><stop offset="0.6" stop-color="#ee7080" stop-opacity="0.66"/><stop offset="1" stop-color="#ee7080" stop-opacity="0.31"/></linearGradient>
<polygon points="316.9,96.5 319.7,96.5 318.7,166.8 317.9,166.8" fill="url(#wg3)"/>
<rect x="318" y="167.8" width="0.6" height="41.2" fill="#ee7080" opacity="0.25"/>
</g></g>
<rect x="306.5" y="45" width="24" height="164" filter="url(#nz0)"/>
<line x1="306.5" y1="96.5" x2="330.5" y2="96.5" stroke="#8a8686" stroke-width="1.6"/>
<line x1="306.5" y1="167.8" x2="330.5" y2="167.8" stroke="#8a8686" stroke-width="1.6"/>
<rect x="306.5" y="45" width="24" height="164" fill="none" stroke="#a2a2a2" stroke-width="0.9"/>
<line x1="318.3" y1="209" x2="318.3" y2="212" stroke="#333" stroke-width="0.9"/>
<text x="318.3" y="225.2" font-size="9.6" text-anchor="middle">S37</text>
<rect x="333.5" y="45" width="24" height="51.5" fill="#fdedf0"/>
<linearGradient id="v4" x1="0" x2="0" y1="0" y2="1"><stop offset="0" stop-color="#fdecee"/><stop offset="1" stop-color="#fef8fa"/></linearGradient>
<rect x="333.5" y="96.5" width="24" height="71.3" fill="url(#v4)"/>
<rect x="333.5" y="167.8" width="24" height="41.2" fill="#fefafb"/>
<clipPath id="cc4"><rect x="333.5" y="45" width="24" height="164"/></clipPath>
<g clip-path="url(#cc4)"><g filter="url(#sblur)">
<rect x="343.4" y="45" width="1.4" height="51.5" fill="#ee7080" opacity="0.06"/>
<rect x="347.2" y="45" width="0.8" height="51.5" fill="#ee7080" opacity="0.09"/>
<rect x="355" y="45" width="0.8" height="51.5" fill="#ee7080" opacity="0.04"/>
<rect x="340.6" y="45" width="1" height="51.5" fill="#ee7080" opacity="0.09"/>
<rect x="353.1" y="45" width="1.6" height="51.5" fill="#ee7080" opacity="0.10"/>
<rect x="338.6" y="45" width="1.1" height="51.5" fill="#ee7080" opacity="0.06"/>
<rect x="343.7" y="45" width="1.1" height="51.5" fill="#ee7080" opacity="0.10"/>
<polygon points="339.3,45 351.3,45 351.3,96.5 339.3,96.5" fill="#ee7080" opacity="0.30"/>
<polygon points="342.4,45 348.2,45 348.2,96.5 342.4,96.5" fill="#ee7080" opacity="1.00"/>
<polygon points="338.1,96.5 352.6,96.5 347.1,166.8 343.6,166.8" fill="#ee7080" opacity="0.27"/>
<linearGradient id="wg4" x1="0" x2="0" y1="0" y2="1"><stop offset="0" stop-color="#ee7080" stop-opacity="0.95"/><stop offset="0.6" stop-color="#ee7080" stop-opacity="0.81"/><stop offset="1" stop-color="#ee7080" stop-opacity="0.38"/></linearGradient>
<polygon points="342.4,96.5 348.2,96.5 345.9,166.8 344.7,166.8" fill="url(#wg4)"/>
<rect x="344.8" y="167.8" width="1" height="41.2" fill="#ee7080" opacity="0.45"/>
</g></g>
<rect x="333.5" y="45" width="24" height="164" filter="url(#nz1)"/>
<line x1="333.5" y1="96.5" x2="357.5" y2="96.5" stroke="#8a8686" stroke-width="1.6"/>
<line x1="333.5" y1="167.8" x2="357.5" y2="167.8" stroke="#8a8686" stroke-width="1.6"/>
<rect x="333.5" y="45" width="24" height="164" fill="none" stroke="#a2a2a2" stroke-width="0.9"/>
<line x1="345.3" y1="209" x2="345.3" y2="212" stroke="#333" stroke-width="0.9"/>
<text x="345.3" y="225.2" font-size="9.6" text-anchor="middle">S46</text>
<rect x="360.5" y="45" width="24" height="51.5" fill="#fdebee"/>
<linearGradient id="v5" x1="0" x2="0" y1="0" y2="1"><stop offset="0" stop-color="#fceaed"/><stop offset="1" stop-color="#fef8f9"/></linearGradient>
<rect x="360.5" y="96.5" width="24" height="71.3" fill="url(#v5)"/>
<rect x="360.5" y="167.8" width="24" height="41.2" fill="#fefafa"/>
<clipPath id="cc5"><rect x="360.5" y="45" width="24" height="164"/></clipPath>
<g clip-path="url(#cc5)"><g filter="url(#sblur)">
<rect x="377.4" y="45" width="1.2" height="51.5" fill="#ee7080" opacity="0.06"/>
<rect x="366.9" y="45" width="1.4" height="51.5" fill="#ee7080" opacity="0.09"/>
<rect x="378" y="45" width="2.1" height="51.5" fill="#ee7080" opacity="0.05"/>
<rect x="364.9" y="45" width="1.3" height="51.5" fill="#ee7080" opacity="0.11"/>
<rect x="370.8" y="45" width="1.8" height="51.5" fill="#ee7080" opacity="0.10"/>
<rect x="370.9" y="45" width="1.3" height="51.5" fill="#ee7080" opacity="0.10"/>
<rect x="374.9" y="45" width="2.2" height="51.5" fill="#ee7080" opacity="0.06"/>
<polygon points="366.5,45 378.1,45 378.1,96.5 366.5,96.5" fill="#ee7080" opacity="0.30"/>
<polygon points="369.4,45 375.2,45 375.2,96.5 369.4,96.5" fill="#ee7080" opacity="1.00"/>
<polygon points="364.3,96.5 380.3,96.5 374.1,166.8 370.6,166.8" fill="#ee7080" opacity="0.27"/>
<linearGradient id="wg5" x1="0" x2="0" y1="0" y2="1"><stop offset="0" stop-color="#ee7080" stop-opacity="0.95"/><stop offset="0.6" stop-color="#ee7080" stop-opacity="0.81"/><stop offset="1" stop-color="#ee7080" stop-opacity="0.38"/></linearGradient>
<polygon points="369.1,96.5 375.5,96.5 372.9,166.8 371.7,166.8" fill="url(#wg5)"/>
<rect x="371.8" y="167.8" width="1" height="41.2" fill="#ee7080" opacity="0.45"/>
</g></g>
<rect x="360.5" y="45" width="24" height="164" filter="url(#nz2)"/>
<line x1="360.5" y1="96.5" x2="384.5" y2="96.5" stroke="#8a8686" stroke-width="1.6"/>
<line x1="360.5" y1="167.8" x2="384.5" y2="167.8" stroke="#8a8686" stroke-width="1.6"/>
<rect x="360.5" y="45" width="24" height="164" fill="none" stroke="#a2a2a2" stroke-width="0.9"/>
<line x1="372.3" y1="209" x2="372.3" y2="212" stroke="#333" stroke-width="0.9"/>
<text x="372.3" y="225.2" font-size="9.6" text-anchor="middle">S1023</text>
<rect x="387.5" y="45" width="24" height="51.5" fill="#f0f9fd"/>
<linearGradient id="v6" x1="0" x2="0" y1="0" y2="1"><stop offset="0" stop-color="#f0f9fd"/><stop offset="1" stop-color="#fafdfe"/></linearGradient>
<rect x="387.5" y="96.5" width="24" height="71.3" fill="url(#v6)"/>
<rect x="387.5" y="167.8" width="24" height="41.2" fill="#f3fafd"/>
<clipPath id="cc6"><rect x="387.5" y="45" width="24" height="164"/></clipPath>
<g clip-path="url(#cc6)"><g filter="url(#sblur)">
<rect x="409" y="45" width="1.5" height="51.5" fill="#188cc8" opacity="0.09"/>
<rect x="401.9" y="45" width="1.6" height="51.5" fill="#188cc8" opacity="0.09"/>
<rect x="389.3" y="45" width="1.2" height="51.5" fill="#188cc8" opacity="0.07"/>
<rect x="405.9" y="45" width="1.1" height="51.5" fill="#188cc8" opacity="0.09"/>
<rect x="389.5" y="45" width="1.3" height="51.5" fill="#188cc8" opacity="0.07"/>
<rect x="403.6" y="45" width="1.5" height="51.5" fill="#188cc8" opacity="0.09"/>
<rect x="403.1" y="45" width="1.3" height="51.5" fill="#188cc8" opacity="0.07"/>
<polygon points="394.3,45 404.3,45 401.8,96.5 396.8,96.5" fill="#188cc8" opacity="0.28"/>
<polygon points="397.3,45 401.3,45 400.6,96.5 398.1,96.5" fill="#188cc8" opacity="0.95"/>
<polygon points="396.8,96.5 401.8,96.5 400.3,166.8 398.3,166.8" fill="#188cc8" opacity="0.10"/>
<linearGradient id="wg6" x1="0" x2="0" y1="0" y2="1"><stop offset="0" stop-color="#188cc8" stop-opacity="0.35"/><stop offset="0.6" stop-color="#188cc8" stop-opacity="0.30"/><stop offset="1" stop-color="#188cc8" stop-opacity="0.14"/></linearGradient>
<polygon points="398.3,96.5 400.3,96.5 399.6,166.8 399,166.8" fill="url(#wg6)"/>
<rect x="398.9" y="167.8" width="0.8" height="41.2" fill="#188cc8" opacity="0.30"/>
</g></g>
<rect x="387.5" y="45" width="24" height="164" filter="url(#nz0)"/>
<line x1="387.5" y1="96.5" x2="411.5" y2="96.5" stroke="#8a8686" stroke-width="1.6"/>
<line x1="387.5" y1="167.8" x2="411.5" y2="167.8" stroke="#8a8686" stroke-width="1.6"/>
<rect x="387.5" y="45" width="24" height="164" fill="none" stroke="#a2a2a2" stroke-width="0.9"/>
<line x1="399.3" y1="209" x2="399.3" y2="212" stroke="#333" stroke-width="0.9"/>
<text x="399.3" y="225.2" font-size="9.6" text-anchor="middle">S01</text>
<rect x="414.5" y="45" width="24" height="51.5" fill="#f2fafd"/>
<linearGradient id="v7" x1="0" x2="0" y1="0" y2="1"><stop offset="0" stop-color="#f2fafd"/><stop offset="1" stop-color="#fafdfe"/></linearGradient>
<rect x="414.5" y="96.5" width="24" height="71.3" fill="url(#v7)"/>
<rect x="414.5" y="167.8" width="24" height="41.2" fill="#f5fbfd"/>
<clipPath id="cc7"><rect x="414.5" y="45" width="24" height="164"/></clipPath>
<g clip-path="url(#cc7)"><g filter="url(#sblur)">
<rect x="423.3" y="45" width="2" height="51.5" fill="#188cc8" opacity="0.05"/>
<rect x="418.6" y="45" width="1.1" height="51.5" fill="#188cc8" opacity="0.05"/>
<rect x="432.7" y="45" width="1.8" height="51.5" fill="#188cc8" opacity="0.05"/>
<rect x="424" y="45" width="2.1" height="51.5" fill="#188cc8" opacity="0.08"/>
<rect x="419.5" y="45" width="2.1" height="51.5" fill="#188cc8" opacity="0.04"/>
<rect x="437" y="45" width="1.2" height="51.5" fill="#188cc8" opacity="0.08"/>
<rect x="415.2" y="45" width="1.8" height="51.5" fill="#188cc8" opacity="0.08"/>
<polygon points="422.3,45 430.3,45 428.3,96.5 424.3,96.5" fill="#188cc8" opacity="0.21"/>
<polygon points="424.8,45 427.8,45 427.3,96.5 425.3,96.5" fill="#188cc8" opacity="0.70"/>
<polygon points="424.3,96.5 428.3,96.5 427.3,166.8 425.3,166.8" fill="#188cc8" opacity="0.08"/>
<linearGradient id="wg7" x1="0" x2="0" y1="0" y2="1"><stop offset="0" stop-color="#188cc8" stop-opacity="0.30"/><stop offset="0.6" stop-color="#188cc8" stop-opacity="0.26"/><stop offset="1" stop-color="#188cc8" stop-opacity="0.12"/></linearGradient>
<polygon points="425.6,96.5 427.1,96.5 426.6,166.8 426.1,166.8" fill="url(#wg7)"/>
<rect x="425.9" y="167.8" width="0.8" height="41.2" fill="#188cc8" opacity="0.30"/>
</g></g>
<rect x="414.5" y="45" width="24" height="164" filter="url(#nz1)"/>
<line x1="414.5" y1="96.5" x2="438.5" y2="96.5" stroke="#8a8686" stroke-width="1.6"/>
<line x1="414.5" y1="167.8" x2="438.5" y2="167.8" stroke="#8a8686" stroke-width="1.6"/>
<rect x="414.5" y="45" width="24" height="164" fill="none" stroke="#a2a2a2" stroke-width="0.9"/>
<line x1="426.3" y1="209" x2="426.3" y2="212" stroke="#333" stroke-width="0.9"/>
<text x="426.3" y="225.2" font-size="9.6" text-anchor="middle">S43</text>
<rect x="441.5" y="45" width="24" height="51.5" fill="#f0f9fd"/>
<linearGradient id="v8" x1="0" x2="0" y1="0" y2="1"><stop offset="0" stop-color="#f0f9fd"/><stop offset="1" stop-color="#fafdfe"/></linearGradient>
<rect x="441.5" y="96.5" width="24" height="71.3" fill="url(#v8)"/>
<rect x="441.5" y="167.8" width="24" height="41.2" fill="#f4fafd"/>
<clipPath id="cc8"><rect x="441.5" y="45" width="24" height="164"/></clipPath>
<g clip-path="url(#cc8)"><g filter="url(#sblur)">
<rect x="460" y="45" width="1.6" height="51.5" fill="#188cc8" opacity="0.05"/>
<rect x="446.8" y="45" width="2.1" height="51.5" fill="#188cc8" opacity="0.09"/>
<rect x="446.5" y="45" width="1.3" height="51.5" fill="#188cc8" opacity="0.07"/>
<rect x="448.3" y="45" width="1.1" height="51.5" fill="#188cc8" opacity="0.09"/>
<rect x="444" y="45" width="1.7" height="51.5" fill="#188cc8" opacity="0.06"/>
<rect x="452.1" y="45" width="2" height="51.5" fill="#188cc8" opacity="0.08"/>
<rect x="458.9" y="45" width="0.8" height="51.5" fill="#188cc8" opacity="0.09"/>
<polygon points="448.3,45 458.3,45 455.8,96.5 450.8,96.5" fill="#188cc8" opacity="0.28"/>
<polygon points="451.1,45 455.6,45 454.7,96.5 451.9,96.5" fill="#188cc8" opacity="0.95"/>
<polygon points="450.3,96.5 456.3,96.5 454.3,166.8 452.3,166.8" fill="#188cc8" opacity="0.17"/>
<linearGradient id="wg8" x1="0" x2="0" y1="0" y2="1"><stop offset="0" stop-color="#188cc8" stop-opacity="0.60"/><stop offset="0.6" stop-color="#188cc8" stop-opacity="0.51"/><stop offset="1" stop-color="#188cc8" stop-opacity="0.24"/></linearGradient>
<polygon points="452,96.5 454.6,96.5 453.7,166.8 452.9,166.8" fill="url(#wg8)"/>
<rect x="452.9" y="167.8" width="0.8" height="41.2" fill="#188cc8" opacity="0.30"/>
</g></g>
<rect x="441.5" y="45" width="24" height="164" filter="url(#nz2)"/>
<line x1="441.5" y1="96.5" x2="465.5" y2="96.5" stroke="#8a8686" stroke-width="1.6"/>
<line x1="441.5" y1="167.8" x2="465.5" y2="167.8" stroke="#8a8686" stroke-width="1.6"/>
<rect x="441.5" y="45" width="24" height="164" fill="none" stroke="#a2a2a2" stroke-width="0.9"/>
<line x1="453.3" y1="209" x2="453.3" y2="212" stroke="#333" stroke-width="0.9"/>
<text x="453.3" y="225.2" font-size="9.6" text-anchor="middle">S19</text>
<rect x="468.5" y="45" width="24" height="51.5" fill="#f1f9fd"/>
<linearGradient id="v9" x1="0" x2="0" y1="0" y2="1"><stop offset="0" stop-color="#f1f9fd"/><stop offset="1" stop-color="#fafdfe"/></linearGradient>
<rect x="468.5" y="96.5" width="24" height="71.3" fill="url(#v9)"/>
<rect x="468.5" y="167.8" width="24" height="41.2" fill="#f5fbfd"/>
<clipPath id="cc9"><rect x="468.5" y="45" width="24" height="164"/></clipPath>
<g clip-path="url(#cc9)"><g filter="url(#sblur)">
<rect x="486.3" y="45" width="0.8" height="51.5" fill="#188cc8" opacity="0.05"/>
<rect x="484.9" y="45" width="2" height="51.5" fill="#188cc8" opacity="0.07"/>
<rect x="488.5" y="45" width="0.9" height="51.5" fill="#188cc8" opacity="0.05"/>
<rect x="487" y="45" width="1.9" height="51.5" fill="#188cc8" opacity="0.05"/>
<rect x="481.3" y="45" width="1.4" height="51.5" fill="#188cc8" opacity="0.08"/>
<rect x="477.5" y="45" width="1.2" height="51.5" fill="#188cc8" opacity="0.08"/>
<rect x="484.2" y="45" width="1.3" height="51.5" fill="#188cc8" opacity="0.07"/>
<polygon points="476.3,45 484.3,45 482.3,96.5 478.3,96.5" fill="#188cc8" opacity="0.24"/>
<polygon points="478.6,45 482.1,45 481.4,96.5 479.2,96.5" fill="#188cc8" opacity="0.80"/>
<polygon points="477.8,96.5 482.8,96.5 481.3,166.8 479.3,166.8" fill="#188cc8" opacity="0.13"/>
<linearGradient id="wg9" x1="0" x2="0" y1="0" y2="1"><stop offset="0" stop-color="#188cc8" stop-opacity="0.45"/><stop offset="0.6" stop-color="#188cc8" stop-opacity="0.38"/><stop offset="1" stop-color="#188cc8" stop-opacity="0.18"/></linearGradient>
<polygon points="479.3,96.5 481.3,96.5 480.6,166.8 480,166.8" fill="url(#wg9)"/>
<rect x="479.9" y="167.8" width="0.8" height="41.2" fill="#188cc8" opacity="0.30"/>
</g></g>
<rect x="468.5" y="45" width="24" height="164" filter="url(#nz0)"/>
<line x1="468.5" y1="96.5" x2="492.5" y2="96.5" stroke="#8a8686" stroke-width="1.6"/>
<line x1="468.5" y1="167.8" x2="492.5" y2="167.8" stroke="#8a8686" stroke-width="1.6"/>
<rect x="468.5" y="45" width="24" height="164" fill="none" stroke="#a2a2a2" stroke-width="0.9"/>
<line x1="480.3" y1="209" x2="480.3" y2="212" stroke="#333" stroke-width="0.9"/>
<text x="480.3" y="225.2" font-size="9.6" text-anchor="middle">S36</text>
<rect x="495.5" y="45" width="24" height="51.5" fill="#eef8fc"/>
<linearGradient id="v10" x1="0" x2="0" y1="0" y2="1"><stop offset="0" stop-color="#eef8fc"/><stop offset="1" stop-color="#f9fcfe"/></linearGradient>
<rect x="495.5" y="96.5" width="24" height="71.3" fill="url(#v10)"/>
<rect x="495.5" y="167.8" width="24" height="41.2" fill="#f2fafd"/>
<clipPath id="cc10"><rect x="495.5" y="45" width="24" height="164"/></clipPath>
<g clip-path="url(#cc10)"><g filter="url(#sblur)">
<rect x="501.4" y="45" width="1.5" height="51.5" fill="#188cc8" opacity="0.06"/>
<rect x="503.2" y="45" width="1.4" height="51.5" fill="#188cc8" opacity="0.05"/>
<rect x="502.5" y="45" width="1.3" height="51.5" fill="#188cc8" opacity="0.07"/>
<rect x="506.9" y="45" width="2.1" height="51.5" fill="#188cc8" opacity="0.10"/>
<rect x="502.2" y="45" width="1" height="51.5" fill="#188cc8" opacity="0.05"/>
<rect x="515.4" y="45" width="1.9" height="51.5" fill="#188cc8" opacity="0.09"/>
<rect x="515.9" y="45" width="1.4" height="51.5" fill="#188cc8" opacity="0.06"/>
<polygon points="501.3,45 513.3,45 510.3,96.5 504.3,96.5" fill="#188cc8" opacity="0.30"/>
<polygon points="504.8,45 509.8,45 509.1,96.5 505.5,96.5" fill="#188cc8" opacity="1.00"/>
<polygon points="503.8,96.5 510.8,96.5 508.6,166.8 506.1,166.8" fill="#188cc8" opacity="0.22"/>
<linearGradient id="wg10" x1="0" x2="0" y1="0" y2="1"><stop offset="0" stop-color="#188cc8" stop-opacity="0.80"/><stop offset="0.6" stop-color="#188cc8" stop-opacity="0.68"/><stop offset="1" stop-color="#188cc8" stop-opacity="0.32"/></linearGradient>
<polygon points="505.7,96.5 508.9,96.5 507.8,166.8 506.8,166.8" fill="url(#wg10)"/>
<rect x="506.8" y="167.8" width="1" height="41.2" fill="#188cc8" opacity="0.40"/>
</g></g>
<rect x="495.5" y="45" width="24" height="164" filter="url(#nz1)"/>
<line x1="495.5" y1="96.5" x2="519.5" y2="96.5" stroke="#8a8686" stroke-width="1.6"/>
<line x1="495.5" y1="167.8" x2="519.5" y2="167.8" stroke="#8a8686" stroke-width="1.6"/>
<rect x="495.5" y="45" width="24" height="164" fill="none" stroke="#a2a2a2" stroke-width="0.9"/>
<line x1="507.3" y1="209" x2="507.3" y2="212" stroke="#333" stroke-width="0.9"/>
<text x="507.3" y="225.2" font-size="9.6" text-anchor="middle">S07</text>
<line x1="224.5" y1="230.8" x2="250.5" y2="230.8" stroke="#333" stroke-width="0.9"/>
<line x1="224.5" y1="229" x2="224.5" y2="232.6" stroke="#333" stroke-width="0.9"/>
<line x1="237.5" y1="229" x2="237.5" y2="232.6" stroke="#333" stroke-width="0.9"/>
<line x1="250.5" y1="229" x2="250.5" y2="232.6" stroke="#333" stroke-width="0.9"/>
<text x="209.8" y="243.6" font-size="7.4">−2 kb</text>
<text x="235.9" y="243.6" font-size="7.4">0</text>
<text x="244" y="243.6" font-size="7.4">+2 kb</text>
<path d="M174.4,285.6 V275.8 M171.4,279 L174.4,275.4 L177.2,279" fill="none" stroke="#333" stroke-width="0.95"/>
<text x="181.1" y="285.2" font-size="11.1" textLength="213.3" lengthAdjust="spacingAndGlyphs">Accessibility at ON (Active) Genes in ESCs</text>
<rect x="49.7" y="364.8" width="0.3" height="19.2" fill="rgb(242,242,242)"/>
<rect x="50" y="364.8" width="1.1" height="19.2" fill="rgb(53,53,53)"/>
<rect x="51" y="364.8" width="1.1" height="19.2" fill="rgb(151,151,151)"/>
<rect x="52" y="364.8" width="1.1" height="19.2" fill="rgb(197,197,197)"/>
<rect x="53" y="364.8" width="1.1" height="19.2" fill="rgb(147,147,147)"/>
<rect x="54" y="364.8" width="1.1" height="19.2" fill="rgb(247,247,247)"/>
<rect x="55" y="364.8" width="1.1" height="19.2" fill="rgb(187,187,187)"/>
<rect x="56" y="364.8" width="1.1" height="19.2" fill="rgb(159,159,159)"/>
<rect x="57" y="364.8" width="1.1" height="19.2" fill="rgb(55,55,55)"/>
<rect x="58" y="364.8" width="1.1" height="19.2" fill="rgb(48,48,48)"/>
<rect x="59" y="364.8" width="1.1" height="19.2" fill="rgb(72,72,72)"/>
<rect x="60" y="364.8" width="1.1" height="19.2" fill="rgb(92,92,92)"/>
<rect x="61" y="364.8" width="1.1" height="19.2" fill="rgb(75,75,75)"/>
<rect x="62" y="364.8" width="1.1" height="19.2" fill="rgb(185,185,185)"/>
<rect x="63" y="364.8" width="1.1" height="19.2" fill="rgb(244,244,244)"/>
<rect x="64" y="364.8" width="2" height="19.2" fill="rgb(193,193,193)"/>
<rect x="66" y="364.8" width="1.1" height="19.2" fill="rgb(182,182,182)"/>
<rect x="67" y="364.8" width="1.1" height="19.2" fill="rgb(200,200,200)"/>
<rect x="68" y="364.8" width="1.1" height="19.2" fill="rgb(83,83,83)"/>
<rect x="69" y="364.8" width="1.1" height="19.2" fill="rgb(28,28,28)"/>
<rect x="70" y="364.8" width="1.1" height="19.2" fill="rgb(246,246,246)"/>
<rect x="71" y="364.8" width="1.1" height="19.2" fill="rgb(157,157,157)"/>
<rect x="72" y="364.8" width="1.1" height="19.2" fill="rgb(141,141,141)"/>
<rect x="73" y="364.8" width="1.1" height="19.2" fill="rgb(119,119,119)"/>
<rect x="74" y="364.8" width="1.1" height="19.2" fill="rgb(151,151,151)"/>
<rect x="75" y="364.8" width="1.1" height="19.2" fill="rgb(165,165,165)"/>
<rect x="76" y="364.8" width="1.1" height="19.2" fill="rgb(204,204,204)"/>
<rect x="77" y="364.8" width="1.1" height="19.2" fill="rgb(178,178,178)"/>
<rect x="79" y="364.8" width="1.1" height="19.2" fill="rgb(160,160,160)"/>
<rect x="80" y="364.8" width="1.1" height="19.2" fill="rgb(99,99,99)"/>
<rect x="81" y="364.8" width="1.1" height="19.2" fill="rgb(173,173,173)"/>
<rect x="82" y="364.8" width="1.1" height="19.2" fill="rgb(122,122,122)"/>
<rect x="83" y="364.8" width="1.1" height="19.2" fill="rgb(45,45,45)"/>
<rect x="84" y="364.8" width="1.1" height="19.2" fill="rgb(223,223,223)"/>
<rect x="85" y="364.8" width="1.1" height="19.2" fill="rgb(66,66,66)"/>
<rect x="86" y="364.8" width="1.1" height="19.2" fill="rgb(24,24,24)"/>
<rect x="87" y="364.8" width="1.1" height="19.2" fill="rgb(42,42,42)"/>
<rect x="88" y="364.8" width="1.1" height="19.2" fill="rgb(207,207,207)"/>
<rect x="89" y="364.8" width="1.1" height="19.2" fill="rgb(54,54,54)"/>
<rect x="90" y="364.8" width="1.1" height="19.2" fill="rgb(137,137,137)"/>
<rect x="91" y="364.8" width="1.1" height="19.2" fill="rgb(162,162,162)"/>
<rect x="92" y="364.8" width="1.1" height="19.2" fill="rgb(124,124,124)"/>
<rect x="93" y="364.8" width="2" height="19.2" fill="rgb(226,226,226)"/>
<rect x="95" y="364.8" width="1.1" height="19.2" fill="rgb(49,49,49)"/>
<rect x="96" y="364.8" width="1.1" height="19.2" fill="rgb(27,27,27)"/>
<rect x="97" y="364.8" width="1.1" height="19.2" fill="rgb(125,125,125)"/>
<rect x="98" y="364.8" width="1.1" height="19.2" fill="rgb(247,247,247)"/>
<rect x="99" y="364.8" width="1.1" height="19.2" fill="rgb(70,70,70)"/>
<rect x="100" y="364.8" width="1.1" height="19.2" fill="rgb(135,135,135)"/>
<rect x="101" y="364.8" width="1.1" height="19.2" fill="rgb(70,70,70)"/>
<rect x="102" y="364.8" width="1.1" height="19.2" fill="rgb(149,149,149)"/>
<rect x="103" y="364.8" width="1.1" height="19.2" fill="rgb(175,175,175)"/>
<rect x="104" y="364.8" width="1.1" height="19.2" fill="rgb(163,163,163)"/>
<rect x="105" y="364.8" width="1.1" height="19.2" fill="rgb(216,216,216)"/>
<rect x="106" y="364.8" width="1.1" height="19.2" fill="rgb(145,145,145)"/>
<rect x="107" y="364.8" width="1.1" height="19.2" fill="rgb(118,118,118)"/>
<rect x="108" y="364.8" width="1.1" height="19.2" fill="rgb(233,233,233)"/>
<rect x="109" y="364.8" width="1.1" height="19.2" fill="rgb(161,161,161)"/>
<rect x="110" y="364.8" width="1.1" height="19.2" fill="rgb(41,41,41)"/>
<rect x="111" y="364.8" width="1.1" height="19.2" fill="rgb(129,129,129)"/>
<rect x="112" y="364.8" width="1.1" height="19.2" fill="rgb(167,167,167)"/>
<rect x="113" y="364.8" width="1.1" height="19.2" fill="rgb(55,55,55)"/>
<rect x="114" y="364.8" width="1.1" height="19.2" fill="rgb(150,150,150)"/>
<rect x="115" y="364.8" width="1.1" height="19.2" fill="rgb(134,134,134)"/>
<rect x="116" y="364.8" width="1.1" height="19.2" fill="rgb(188,188,188)"/>
<rect x="117" y="364.8" width="1.1" height="19.2" fill="rgb(18,18,18)"/>
<rect x="118" y="364.8" width="1.1" height="19.2" fill="rgb(142,142,142)"/>
<rect x="119" y="364.8" width="1.1" height="19.2" fill="rgb(245,245,245)"/>
<rect x="120" y="364.8" width="1.1" height="19.2" fill="rgb(199,199,199)"/>
<rect x="121" y="364.8" width="1.1" height="19.2" fill="rgb(236,236,236)"/>
<rect x="122" y="364.8" width="4" height="19.2" fill="rgb(249,249,249)"/>
<rect x="126" y="364.8" width="1.1" height="19.2" fill="rgb(237,237,237)"/>
<rect x="127" y="364.8" width="1.1" height="19.2" fill="rgb(153,153,153)"/>
<rect x="128" y="364.8" width="1.1" height="19.2" fill="rgb(205,205,205)"/>
<rect x="129" y="364.8" width="2" height="19.2" fill="rgb(235,235,235)"/>
<rect x="131" y="364.8" width="1.1" height="19.2" fill="rgb(149,149,149)"/>
<rect x="132" y="364.8" width="1.1" height="19.2" fill="rgb(234,234,234)"/>
<rect x="133" y="364.8" width="1.1" height="19.2" fill="rgb(162,162,162)"/>
<rect x="135" y="364.8" width="1.1" height="19.2" fill="rgb(107,107,107)"/>
<rect x="136" y="364.8" width="1.1" height="19.2" fill="rgb(236,236,236)"/>
<rect x="137" y="364.8" width="1.1" height="19.2" fill="rgb(228,228,228)"/>
<rect x="138" y="364.8" width="1.1" height="19.2" fill="rgb(104,104,104)"/>
<rect x="140" y="364.8" width="1.1" height="19.2" fill="rgb(228,228,228)"/>
<rect x="142" y="364.8" width="1.1" height="19.2" fill="rgb(225,225,225)"/>
<rect x="143" y="364.8" width="1.1" height="19.2" fill="rgb(243,243,243)"/>
<rect x="144" y="364.8" width="1.1" height="19.2" fill="rgb(234,234,234)"/>
<rect x="146" y="364.8" width="3" height="19.2" fill="rgb(236,236,236)"/>
<rect x="149" y="364.8" width="1.1" height="19.2" fill="rgb(132,132,132)"/>
<rect x="150" y="364.8" width="1.1" height="19.2" fill="rgb(225,225,225)"/>
<rect x="154" y="364.8" width="1.1" height="19.2" fill="rgb(244,244,244)"/>
<rect x="155" y="364.8" width="1.1" height="19.2" fill="rgb(138,138,138)"/>
<rect x="156" y="364.8" width="1.1" height="19.2" fill="rgb(242,242,242)"/>
<rect x="157" y="364.8" width="1.1" height="19.2" fill="rgb(234,234,234)"/>
<rect x="49.7" y="364.8" width="125.3" height="19.2" fill="none" stroke="#222" stroke-width="0.9"/>
<rect x="49.7" y="384" width="125.3" height="9.8" fill="url(#gsea)"/>
<rect x="49.7" y="309.5" width="125.3" height="74.5" fill="none" stroke="#222" stroke-width="0.9"/>
<line x1="46.7" y1="361.7" x2="175" y2="361.7" stroke="#444" stroke-width="1.3"/>
<line x1="46.5" y1="309.6" x2="49.7" y2="309.6" stroke="#222" stroke-width="1.0"/>
<line x1="46.5" y1="320" x2="49.7" y2="320" stroke="#222" stroke-width="1.0"/>
<line x1="46.5" y1="330.5" x2="49.7" y2="330.5" stroke="#222" stroke-width="1.0"/>
<line x1="46.5" y1="340.9" x2="49.7" y2="340.9" stroke="#222" stroke-width="1.0"/>
<line x1="46.5" y1="351.4" x2="49.7" y2="351.4" stroke="#222" stroke-width="1.0"/>
<line x1="46.5" y1="361.8" x2="49.7" y2="361.8" stroke="#222" stroke-width="1.0"/>
<text x="42.5" y="312.9" font-size="9.3" text-anchor="end">0.5</text>
<text x="42.5" y="344.2" font-size="9.3" text-anchor="end">0.2</text>
<text x="42.5" y="365.1" font-size="9.3" text-anchor="end">0.0</text>
<path d="M49.7,352.3 L50.1,350.6 L50.8,348.1 L51.5,345.2 L52.3,343.7 L53.1,342.4 L54.0,340.0 L54.8,339.6 L55.7,338.6 L56.7,338.4 L58.0,338.6 L59.4,338.5 L60.6,338.7 L61.6,337.5 L62.5,337.1 L63.2,336.0 L63.7,334.4 L64.0,331.7 L64.5,329.5 L65.2,328.1 L66.0,327.5 L67.0,326.2 L68.2,326.0 L69.6,324.5 L71.0,323.1 L72.3,322.3 L73.6,322.2 L74.9,321.7 L76.1,320.7 L77.3,319.2 L78.7,318.4 L80.4,316.8 L82.3,314.7 L84.0,313.1 L85.3,312.7 L86.4,313.0 L87.8,314.5 L89.8,313.8 L92.1,312.8 L94.3,311.3 L95.8,312.1 L97.2,312.3 L99.5,313.3 L103.4,314.4 L108.1,316.5 L112.5,319.0 L116.1,320.9 L119.3,323.0 L122.9,326.3 L127.0,329.7 L131.5,332.8 L135.9,336.6 L140.2,340.5 L144.5,342.7 L148.8,346.5 L153.3,349.3 L157.9,351.5 L161.8,355.5 L164.9,357.8 L167.3,359.7 L169.0,361.4 L169.8,361.9 L170.0,361.8 L170.0,361.6" fill="none" stroke="#78b83a" stroke-width="1.3" stroke-linejoin="round"/>
<text x="67.8" y="302.5" font-size="9.85" textLength="90.2" lengthAdjust="spacingAndGlyphs">Proliferation in ESCs</text>
<text x="130.8" y="316.1" font-size="5.6" fill="#1a1a1a">Normal <tspan font-style="italic">P</tspan>: 0.0</text>
<text x="130.8" y="323" font-size="5.6" fill="#1a1a1a">FDR q-value: 0.0</text>
<text x="130.8" y="329.9" font-size="5.6" fill="#1a1a1a">NES = 2.312</text>
<text x="22.7" y="367.3" font-size="10.8" textLength="60.5" lengthAdjust="spacingAndGlyphs" transform="rotate(-90 22.7 367.3)" stroke="#222" stroke-width="0.3">Enrichment score</text>
<text x="50" y="405.5" font-size="9.2" textLength="76" lengthAdjust="spacingAndGlyphs">Accessible in PNR</text>
<rect x="219" y="364.8" width="1.1" height="19.2" fill="rgb(49,49,49)"/>
<rect x="220" y="364.8" width="2" height="19.2" fill="rgb(61,61,61)"/>
<rect x="222" y="364.8" width="1.1" height="19.2" fill="rgb(44,44,44)"/>
<rect x="223" y="364.8" width="1.1" height="19.2" fill="rgb(19,19,19)"/>
<rect x="224" y="364.8" width="1.1" height="19.2" fill="rgb(25,25,25)"/>
<rect x="225" y="364.8" width="1.1" height="19.2" fill="rgb(45,45,45)"/>
<rect x="226" y="364.8" width="3" height="19.2" fill="rgb(27,27,27)"/>
<rect x="229" y="364.8" width="1.1" height="19.2" fill="rgb(15,15,15)"/>
<rect x="230" y="364.8" width="1.1" height="19.2" fill="rgb(28,28,28)"/>
<rect x="231" y="364.8" width="1.1" height="19.2" fill="rgb(9,9,9)"/>
<rect x="232" y="364.8" width="1.1" height="19.2" fill="rgb(31,31,31)"/>
<rect x="233" y="364.8" width="1.1" height="19.2" fill="rgb(70,70,70)"/>
<rect x="234" y="364.8" width="1.1" height="19.2" fill="rgb(64,64,64)"/>
<rect x="235" y="364.8" width="2" height="19.2" fill="rgb(25,25,25)"/>
<rect x="237" y="364.8" width="1.1" height="19.2" fill="rgb(37,37,37)"/>
<rect x="238" y="364.8" width="1.1" height="19.2" fill="rgb(17,17,17)"/>
<rect x="239" y="364.8" width="1.1" height="19.2" fill="rgb(46,46,46)"/>
<rect x="240" y="364.8" width="1.1" height="19.2" fill="rgb(58,58,58)"/>
<rect x="241" y="364.8" width="1.1" height="19.2" fill="rgb(38,38,38)"/>
<rect x="242" y="364.8" width="1.1" height="19.2" fill="rgb(61,61,61)"/>
<rect x="243" y="364.8" width="1.1" height="19.2" fill="rgb(36,36,36)"/>
<rect x="244" y="364.8" width="1.1" height="19.2" fill="rgb(53,53,53)"/>
<rect x="245" y="364.8" width="1.1" height="19.2" fill="rgb(40,40,40)"/>
<rect x="246" y="364.8" width="1.1" height="19.2" fill="rgb(8,8,8)"/>
<rect x="247" y="364.8" width="1.1" height="19.2" fill="rgb(234,234,234)"/>
<rect x="248" y="364.8" width="1.1" height="19.2" fill="rgb(23,23,23)"/>
<rect x="249" y="364.8" width="1.1" height="19.2" fill="rgb(47,47,47)"/>
<rect x="250" y="364.8" width="1.1" height="19.2" fill="rgb(16,16,16)"/>
<rect x="251" y="364.8" width="1.1" height="19.2" fill="rgb(26,26,26)"/>
<rect x="252" y="364.8" width="1.1" height="19.2" fill="rgb(37,37,37)"/>
<rect x="253" y="364.8" width="2" height="19.2" fill="rgb(27,27,27)"/>
<rect x="255" y="364.8" width="1.1" height="19.2" fill="rgb(42,42,42)"/>
<rect x="256" y="364.8" width="1.1" height="19.2" fill="rgb(12,12,12)"/>
<rect x="257" y="364.8" width="1.1" height="19.2" fill="rgb(67,67,67)"/>
<rect x="258" y="364.8" width="1.1" height="19.2" fill="rgb(25,25,25)"/>
<rect x="259" y="364.8" width="1.1" height="19.2" fill="rgb(241,241,241)"/>
<rect x="260" y="364.8" width="1.1" height="19.2" fill="rgb(44,44,44)"/>
<rect x="261" y="364.8" width="1.1" height="19.2" fill="rgb(62,62,62)"/>
<rect x="262" y="364.8" width="1.1" height="19.2" fill="rgb(27,27,27)"/>
<rect x="263" y="364.8" width="1.1" height="19.2" fill="rgb(42,42,42)"/>
<rect x="264" y="364.8" width="1.1" height="19.2" fill="rgb(10,10,10)"/>
<rect x="265" y="364.8" width="1.1" height="19.2" fill="rgb(54,54,54)"/>
<rect x="266" y="364.8" width="1.1" height="19.2" fill="rgb(229,229,229)"/>
<rect x="267" y="364.8" width="1.1" height="19.2" fill="rgb(59,59,59)"/>
<rect x="268" y="364.8" width="2" height="19.2" fill="rgb(23,23,23)"/>
<rect x="270" y="364.8" width="1.1" height="19.2" fill="rgb(42,42,42)"/>
<rect x="271" y="364.8" width="1.1" height="19.2" fill="rgb(23,23,23)"/>
<rect x="272" y="364.8" width="2" height="19.2" fill="rgb(48,48,48)"/>
<rect x="274" y="364.8" width="1.1" height="19.2" fill="rgb(29,29,29)"/>
<rect x="275" y="364.8" width="1.1" height="19.2" fill="rgb(53,53,53)"/>
<rect x="276" y="364.8" width="2" height="19.2" fill="rgb(31,31,31)"/>
<rect x="278" y="364.8" width="1.1" height="19.2" fill="rgb(55,55,55)"/>
<rect x="279" y="364.8" width="1.1" height="19.2" fill="rgb(46,46,46)"/>
<rect x="280" y="364.8" width="1.1" height="19.2" fill="rgb(28,28,28)"/>
<rect x="281" y="364.8" width="1.1" height="19.2" fill="rgb(61,61,61)"/>
<rect x="282" y="364.8" width="1.1" height="19.2" fill="rgb(12,12,12)"/>
<rect x="283" y="364.8" width="1.1" height="19.2" fill="rgb(29,29,29)"/>
<rect x="284" y="364.8" width="1.1" height="19.2" fill="rgb(38,38,38)"/>
<rect x="285" y="364.8" width="1.1" height="19.2" fill="rgb(69,69,69)"/>
<rect x="286" y="364.8" width="1.1" height="19.2" fill="rgb(34,34,34)"/>
<rect x="287" y="364.8" width="1.1" height="19.2" fill="rgb(101,101,101)"/>
<rect x="288" y="364.8" width="1.1" height="19.2" fill="rgb(48,48,48)"/>
<rect x="289" y="364.8" width="2" height="19.2" fill="rgb(83,83,83)"/>
<rect x="291" y="364.8" width="1.1" height="19.2" fill="rgb(40,40,40)"/>
<rect x="292" y="364.8" width="1.1" height="19.2" fill="rgb(30,30,30)"/>
<rect x="293" y="364.8" width="1.1" height="19.2" fill="rgb(89,89,89)"/>
<rect x="294" y="364.8" width="1.1" height="19.2" fill="rgb(46,46,46)"/>
<rect x="295" y="364.8" width="1.1" height="19.2" fill="rgb(40,40,40)"/>
<rect x="296" y="364.8" width="2" height="19.2" fill="rgb(87,87,87)"/>
<rect x="298" y="364.8" width="1.1" height="19.2" fill="rgb(65,65,65)"/>
<rect x="299" y="364.8" width="1.1" height="19.2" fill="rgb(112,112,112)"/>
<rect x="300" y="364.8" width="1.1" height="19.2" fill="rgb(121,121,121)"/>
<rect x="301" y="364.8" width="1.1" height="19.2" fill="rgb(247,247,247)"/>
<rect x="302" y="364.8" width="1.1" height="19.2" fill="rgb(131,131,131)"/>
<rect x="303" y="364.8" width="1.1" height="19.2" fill="rgb(59,59,59)"/>
<rect x="304" y="364.8" width="1.1" height="19.2" fill="rgb(148,148,148)"/>
<rect x="305" y="364.8" width="1.1" height="19.2" fill="rgb(230,230,230)"/>
<rect x="306" y="364.8" width="1.1" height="19.2" fill="rgb(16,16,16)"/>
<rect x="307" y="364.8" width="1.1" height="19.2" fill="rgb(50,50,50)"/>
<rect x="308" y="364.8" width="1.1" height="19.2" fill="rgb(79,79,79)"/>
<rect x="309" y="364.8" width="1.1" height="19.2" fill="rgb(105,105,105)"/>
<rect x="310" y="364.8" width="1.1" height="19.2" fill="rgb(63,63,63)"/>
<rect x="311" y="364.8" width="1.1" height="19.2" fill="rgb(118,118,118)"/>
<rect x="312" y="364.8" width="1.1" height="19.2" fill="rgb(64,64,64)"/>
<rect x="313" y="364.8" width="1.1" height="19.2" fill="rgb(136,136,136)"/>
<rect x="314" y="364.8" width="1.1" height="19.2" fill="rgb(151,151,151)"/>
<rect x="315" y="364.8" width="1.1" height="19.2" fill="rgb(87,87,87)"/>
<rect x="316" y="364.8" width="1.1" height="19.2" fill="rgb(38,38,38)"/>
<rect x="317" y="364.8" width="1.1" height="19.2" fill="rgb(146,146,146)"/>
<rect x="318" y="364.8" width="1.1" height="19.2" fill="rgb(111,111,111)"/>
<rect x="319" y="364.8" width="1.1" height="19.2" fill="rgb(117,117,117)"/>
<rect x="320" y="364.8" width="1.1" height="19.2" fill="rgb(64,64,64)"/>
<rect x="321" y="364.8" width="1.1" height="19.2" fill="rgb(87,87,87)"/>
<rect x="322" y="364.8" width="1.1" height="19.2" fill="rgb(57,57,57)"/>
<rect x="323" y="364.8" width="1.1" height="19.2" fill="rgb(136,136,136)"/>
<rect x="324" y="364.8" width="1.1" height="19.2" fill="rgb(16,16,16)"/>
<rect x="325" y="364.8" width="1.1" height="19.2" fill="rgb(52,52,52)"/>
<rect x="326" y="364.8" width="1.1" height="19.2" fill="rgb(106,106,106)"/>
<rect x="327" y="364.8" width="2" height="19.2" fill="rgb(58,58,58)"/>
<rect x="329" y="364.8" width="1.1" height="19.2" fill="rgb(45,45,45)"/>
<rect x="330" y="364.8" width="1.1" height="19.2" fill="rgb(124,124,124)"/>
<rect x="331" y="364.8" width="1.1" height="19.2" fill="rgb(118,118,118)"/>
<rect x="332" y="364.8" width="1.1" height="19.2" fill="rgb(162,162,162)"/>
<rect x="333" y="364.8" width="2" height="19.2" fill="rgb(238,238,238)"/>
<rect x="335" y="364.8" width="1.1" height="19.2" fill="rgb(113,113,113)"/>
<rect x="336" y="364.8" width="1.1" height="19.2" fill="rgb(60,60,60)"/>
<rect x="337" y="364.8" width="1.1" height="19.2" fill="rgb(105,105,105)"/>
<rect x="338" y="364.8" width="1.1" height="19.2" fill="rgb(233,233,233)"/>
<rect x="339" y="364.8" width="1.1" height="19.2" fill="rgb(208,208,208)"/>
<rect x="340" y="364.8" width="1.1" height="19.2" fill="rgb(170,170,170)"/>
<rect x="219" y="364.8" width="126.3" height="19.2" fill="none" stroke="#222" stroke-width="0.9"/>
<rect x="219" y="384" width="126.3" height="9.8" fill="url(#gsea)"/>
<rect x="219" y="309.9" width="126.3" height="74.1" fill="none" stroke="#222" stroke-width="0.9"/>
<line x1="216" y1="360.8" x2="345.3" y2="360.8" stroke="#444" stroke-width="1.3"/>
<line x1="215.8" y1="310.7" x2="219" y2="310.7" stroke="#222" stroke-width="1.0"/>
<line x1="215.8" y1="323.2" x2="219" y2="323.2" stroke="#222" stroke-width="1.0"/>
<line x1="215.8" y1="335.7" x2="219" y2="335.7" stroke="#222" stroke-width="1.0"/>
<line x1="215.8" y1="348.1" x2="219" y2="348.1" stroke="#222" stroke-width="1.0"/>
<line x1="215.8" y1="360.6" x2="219" y2="360.6" stroke="#222" stroke-width="1.0"/>
<text x="211.8" y="314" font-size="9.3" text-anchor="end">0.4</text>
<text x="211.8" y="339" font-size="9.3" text-anchor="end">0.2</text>
<text x="211.8" y="363.9" font-size="9.3" text-anchor="end">0.0</text>
<path d="M219.2,360.5 L220.1,358.9 L221.4,356.6 L222.8,354.0 L224.1,353.3 L225.4,351.4 L226.7,350.5 L227.9,349.1 L229.1,348.4 L230.6,347.4 L232.5,343.3 L234.8,338.8 L237.0,335.2 L239.3,332.6 L241.6,330.4 L243.6,328.3 L245.0,327.2 L246.1,327.2 L247.5,326.6 L249.5,324.6 L251.7,321.7 L254.0,319.2 L256.2,317.7 L258.4,315.1 L260.4,314.3 L262.2,313.7 L263.9,313.4 L265.6,311.6 L267.3,311.4 L269.0,311.6 L270.8,311.9 L272.8,312.7 L275.0,312.0 L277.3,312.9 L279.8,314.8 L282.5,316.8 L285.1,317.5 L287.7,320.0 L290.3,322.7 L292.9,324.6 L295.5,326.7 L298.1,329.2 L300.7,332.9 L303.3,335.1 L305.9,337.8 L308.5,340.5 L311.1,342.8 L313.6,344.4 L316.2,346.5 L318.9,349.6 L321.6,350.7 L324.0,353.6 L325.9,354.2 L327.6,355.0 L329.2,355.4 L331.0,357.9 L332.9,358.6 L334.4,359.9 L335.5,360.3 L336.2,361.9 L337.0,361.5 L338.0,361.4 L338.9,361.1 L339.6,360.9" fill="none" stroke="#78b83a" stroke-width="1.3" stroke-linejoin="round"/>
<text x="231" y="303.5" font-size="9.85" textLength="103.5" lengthAdjust="spacingAndGlyphs">Cycling Genes in ESCs</text>
<text x="298.9" y="315.3" font-size="5.6" fill="#1a1a1a">Normal <tspan font-style="italic">P</tspan>: 0.0</text>
<text x="298.9" y="322.2" font-size="5.6" fill="#1a1a1a">FDR q-value: 6E-5</text>
<text x="298.9" y="329.1" font-size="5.6" fill="#1a1a1a">NES = 2.265</text>
<text x="193.6" y="367.9" font-size="10.8" textLength="60.5" lengthAdjust="spacingAndGlyphs" transform="rotate(-90 193.6 367.9)" stroke="#222" stroke-width="0.3">Enrichment score</text>
<rect x="389" y="364.8" width="1.1" height="19.2" fill="rgb(63,63,63)"/>
<rect x="390" y="364.8" width="1.1" height="19.2" fill="rgb(53,53,53)"/>
<rect x="391" y="364.8" width="1.1" height="19.2" fill="rgb(88,88,88)"/>
<rect x="392" y="364.8" width="1.1" height="19.2" fill="rgb(47,47,47)"/>
<rect x="393" y="364.8" width="1.1" height="19.2" fill="rgb(227,227,227)"/>
<rect x="394" y="364.8" width="1.1" height="19.2" fill="rgb(53,53,53)"/>
<rect x="395" y="364.8" width="1.1" height="19.2" fill="rgb(42,42,42)"/>
<rect x="396" y="364.8" width="1.1" height="19.2" fill="rgb(51,51,51)"/>
<rect x="397" y="364.8" width="1.1" height="19.2" fill="rgb(29,29,29)"/>
<rect x="398" y="364.8" width="1.1" height="19.2" fill="rgb(114,114,114)"/>
<rect x="399" y="364.8" width="1.1" height="19.2" fill="rgb(52,52,52)"/>
<rect x="400" y="364.8" width="1.1" height="19.2" fill="rgb(162,162,162)"/>
<rect x="401" y="364.8" width="1.1" height="19.2" fill="rgb(69,69,69)"/>
<rect x="402" y="364.8" width="1.1" height="19.2" fill="rgb(41,41,41)"/>
<rect x="403" y="364.8" width="1.1" height="19.2" fill="rgb(22,22,22)"/>
<rect x="404" y="364.8" width="1.1" height="19.2" fill="rgb(112,112,112)"/>
<rect x="405" y="364.8" width="1.1" height="19.2" fill="rgb(57,57,57)"/>
<rect x="406" y="364.8" width="1.1" height="19.2" fill="rgb(67,67,67)"/>
<rect x="407" y="364.8" width="1.1" height="19.2" fill="rgb(60,60,60)"/>
<rect x="408" y="364.8" width="1.1" height="19.2" fill="rgb(18,18,18)"/>
<rect x="409" y="364.8" width="1.1" height="19.2" fill="rgb(104,104,104)"/>
<rect x="410" y="364.8" width="1.1" height="19.2" fill="rgb(138,138,138)"/>
<rect x="411" y="364.8" width="1.1" height="19.2" fill="rgb(155,155,155)"/>
<rect x="412" y="364.8" width="1.1" height="19.2" fill="rgb(74,74,74)"/>
<rect x="413" y="364.8" width="1.1" height="19.2" fill="rgb(64,64,64)"/>
<rect x="414" y="364.8" width="2" height="19.2" fill="rgb(243,243,243)"/>
<rect x="416" y="364.8" width="1.1" height="19.2" fill="rgb(132,132,132)"/>
<rect x="417" y="364.8" width="1.1" height="19.2" fill="rgb(227,227,227)"/>
<rect x="418" y="364.8" width="3" height="19.2" fill="rgb(41,41,41)"/>
<rect x="421" y="364.8" width="1.1" height="19.2" fill="rgb(160,160,160)"/>
<rect x="422" y="364.8" width="1.1" height="19.2" fill="rgb(50,50,50)"/>
<rect x="423" y="364.8" width="1.1" height="19.2" fill="rgb(150,150,150)"/>
<rect x="424" y="364.8" width="1.1" height="19.2" fill="rgb(247,247,247)"/>
<rect x="425" y="364.8" width="1.1" height="19.2" fill="rgb(104,104,104)"/>
<rect x="426" y="364.8" width="1.1" height="19.2" fill="rgb(53,53,53)"/>
<rect x="427" y="364.8" width="1.1" height="19.2" fill="rgb(32,32,32)"/>
<rect x="428" y="364.8" width="1.1" height="19.2" fill="rgb(124,124,124)"/>
<rect x="429" y="364.8" width="1.1" height="19.2" fill="rgb(59,59,59)"/>
<rect x="430" y="364.8" width="1.1" height="19.2" fill="rgb(243,243,243)"/>
<rect x="431" y="364.8" width="1.1" height="19.2" fill="rgb(143,143,143)"/>
<rect x="432" y="364.8" width="1.1" height="19.2" fill="rgb(237,237,237)"/>
<rect x="433" y="364.8" width="2" height="19.2" fill="rgb(86,86,86)"/>
<rect x="435" y="364.8" width="1.1" height="19.2" fill="rgb(104,104,104)"/>
<rect x="436" y="364.8" width="1.1" height="19.2" fill="rgb(234,234,234)"/>
<rect x="437" y="364.8" width="1.1" height="19.2" fill="rgb(30,30,30)"/>
<rect x="438" y="364.8" width="1.1" height="19.2" fill="rgb(155,155,155)"/>
<rect x="439" y="364.8" width="1.1" height="19.2" fill="rgb(64,64,64)"/>
<rect x="440" y="364.8" width="1.1" height="19.2" fill="rgb(78,78,78)"/>
<rect x="441" y="364.8" width="1.1" height="19.2" fill="rgb(42,42,42)"/>
<rect x="442" y="364.8" width="1.1" height="19.2" fill="rgb(78,78,78)"/>
<rect x="443" y="364.8" width="1.1" height="19.2" fill="rgb(88,88,88)"/>
<rect x="444" y="364.8" width="1.1" height="19.2" fill="rgb(159,159,159)"/>
<rect x="445" y="364.8" width="1.1" height="19.2" fill="rgb(26,26,26)"/>
<rect x="446" y="364.8" width="1.1" height="19.2" fill="rgb(57,57,57)"/>
<rect x="447" y="364.8" width="1.1" height="19.2" fill="rgb(240,240,240)"/>
<rect x="448" y="364.8" width="1.1" height="19.2" fill="rgb(66,66,66)"/>
<rect x="449" y="364.8" width="1.1" height="19.2" fill="rgb(229,229,229)"/>
<rect x="450" y="364.8" width="1.1" height="19.2" fill="rgb(236,236,236)"/>
<rect x="451" y="364.8" width="1.1" height="19.2" fill="rgb(133,133,133)"/>
<rect x="452" y="364.8" width="1.1" height="19.2" fill="rgb(69,69,69)"/>
<rect x="453" y="364.8" width="1.1" height="19.2" fill="rgb(169,169,169)"/>
<rect x="454" y="364.8" width="1.1" height="19.2" fill="rgb(101,101,101)"/>
<rect x="455" y="364.8" width="2" height="19.2" fill="rgb(188,188,188)"/>
<rect x="457" y="364.8" width="2" height="19.2" fill="rgb(237,237,237)"/>
<rect x="459" y="364.8" width="1.1" height="19.2" fill="rgb(102,102,102)"/>
<rect x="460" y="364.8" width="1.1" height="19.2" fill="rgb(28,28,28)"/>
<rect x="461" y="364.8" width="2" height="19.2" fill="rgb(228,228,228)"/>
<rect x="463" y="364.8" width="1.1" height="19.2" fill="rgb(51,51,51)"/>
<rect x="464" y="364.8" width="1.1" height="19.2" fill="rgb(228,228,228)"/>
<rect x="465" y="364.8" width="1.1" height="19.2" fill="rgb(168,168,168)"/>
<rect x="466" y="364.8" width="1.1" height="19.2" fill="rgb(28,28,28)"/>
<rect x="467" y="364.8" width="1.1" height="19.2" fill="rgb(112,112,112)"/>
<rect x="468" y="364.8" width="1.1" height="19.2" fill="rgb(236,236,236)"/>
<rect x="469" y="364.8" width="1.1" height="19.2" fill="rgb(151,151,151)"/>
<rect x="470" y="364.8" width="1.1" height="19.2" fill="rgb(46,46,46)"/>
<rect x="471" y="364.8" width="1.1" height="19.2" fill="rgb(150,150,150)"/>
<rect x="472" y="364.8" width="1.1" height="19.2" fill="rgb(105,105,105)"/>
<rect x="473" y="364.8" width="1.1" height="19.2" fill="rgb(36,36,36)"/>
<rect x="474" y="364.8" width="2" height="19.2" fill="rgb(152,152,152)"/>
<rect x="477" y="364.8" width="1.1" height="19.2" fill="rgb(112,112,112)"/>
<rect x="478" y="364.8" width="1.1" height="19.2" fill="rgb(98,98,98)"/>
<rect x="479" y="364.8" width="1.1" height="19.2" fill="rgb(212,212,212)"/>
<rect x="480" y="364.8" width="1.1" height="19.2" fill="rgb(178,178,178)"/>
<rect x="481" y="364.8" width="1.1" height="19.2" fill="rgb(236,236,236)"/>
<rect x="482" y="364.8" width="1.1" height="19.2" fill="rgb(137,137,137)"/>
<rect x="483" y="364.8" width="1.1" height="19.2" fill="rgb(242,242,242)"/>
<rect x="484" y="364.8" width="1.1" height="19.2" fill="rgb(134,134,134)"/>
<rect x="486" y="364.8" width="1.1" height="19.2" fill="rgb(185,185,185)"/>
<rect x="487" y="364.8" width="1.1" height="19.2" fill="rgb(232,232,232)"/>
<rect x="488" y="364.8" width="1.1" height="19.2" fill="rgb(183,183,183)"/>
<rect x="489" y="364.8" width="1.1" height="19.2" fill="rgb(241,241,241)"/>
<rect x="490" y="364.8" width="1.1" height="19.2" fill="rgb(248,248,248)"/>
<rect x="491" y="364.8" width="1.1" height="19.2" fill="rgb(83,83,83)"/>
<rect x="492" y="364.8" width="1.1" height="19.2" fill="rgb(226,226,226)"/>
<rect x="493" y="364.8" width="1.1" height="19.2" fill="rgb(244,244,244)"/>
<rect x="494" y="364.8" width="1.1" height="19.2" fill="rgb(225,225,225)"/>
<rect x="496" y="364.8" width="1.1" height="19.2" fill="rgb(221,221,221)"/>
<rect x="497" y="364.8" width="2" height="19.2" fill="rgb(232,232,232)"/>
<rect x="499" y="364.8" width="1.1" height="19.2" fill="rgb(244,244,244)"/>
<rect x="500" y="364.8" width="1.1" height="19.2" fill="rgb(233,233,233)"/>
<rect x="501" y="364.8" width="1.1" height="19.2" fill="rgb(124,124,124)"/>
<rect x="502" y="364.8" width="1.1" height="19.2" fill="rgb(207,207,207)"/>
<rect x="503" y="364.8" width="1.1" height="19.2" fill="rgb(248,248,248)"/>
<rect x="504" y="364.8" width="1.1" height="19.2" fill="rgb(240,240,240)"/>
<rect x="505" y="364.8" width="1.1" height="19.2" fill="rgb(230,230,230)"/>
<rect x="506" y="364.8" width="2" height="19.2" fill="rgb(245,245,245)"/>
<rect x="508" y="364.8" width="1.1" height="19.2" fill="rgb(239,239,239)"/>
<rect x="509" y="364.8" width="1.1" height="19.2" fill="rgb(248,248,248)"/>
<rect x="510" y="364.8" width="1.1" height="19.2" fill="rgb(239,239,239)"/>
<rect x="511" y="364.8" width="1.1" height="19.2" fill="rgb(229,229,229)"/>
<rect x="512" y="364.8" width="1.1" height="19.2" fill="rgb(139,139,139)"/>
<rect x="513" y="364.8" width="1.1" height="19.2" fill="rgb(210,210,210)"/>
<rect x="515" y="364.8" width="0.3" height="19.2" fill="rgb(220,220,220)"/>
<rect x="389" y="364.8" width="126.3" height="19.2" fill="none" stroke="#222" stroke-width="0.9"/>
<rect x="389" y="384" width="126.3" height="9.8" fill="url(#gsea)"/>
<rect x="389" y="309.9" width="126.3" height="74.1" fill="none" stroke="#222" stroke-width="0.9"/>
<line x1="386" y1="360.8" x2="515.3" y2="360.8" stroke="#444" stroke-width="1.3"/>
<line x1="385.8" y1="310.7" x2="389" y2="310.7" stroke="#222" stroke-width="1.0"/>
<line x1="385.8" y1="323.2" x2="389" y2="323.2" stroke="#222" stroke-width="1.0"/>
<line x1="385.8" y1="335.7" x2="389" y2="335.7" stroke="#222" stroke-width="1.0"/>
<line x1="385.8" y1="348.1" x2="389" y2="348.1" stroke="#222" stroke-width="1.0"/>
<line x1="385.8" y1="360.6" x2="389" y2="360.6" stroke="#222" stroke-width="1.0"/>
<text x="381.5" y="314" font-size="9.3" text-anchor="end">0.4</text>
<text x="381.5" y="339" font-size="9.3" text-anchor="end">0.2</text>
<text x="381.5" y="363.9" font-size="9.3" text-anchor="end">0.0</text>
<path d="M389.2,360.2 L389.7,359.0 L390.5,357.4 L391.5,356.3 L392.6,354.0 L393.9,353.2 L395.4,351.6 L397.1,347.6 L399.0,343.9 L400.6,341.5 L401.7,341.6 L402.6,343.2 L403.7,344.8 L405.1,342.7 L406.7,340.7 L408.4,338.5 L410.1,337.2 L411.9,335.2 L413.6,332.6 L415.0,330.8 L416.3,329.0 L417.5,326.6 L418.8,324.3 L420.1,323.0 L421.3,320.8 L422.2,319.0 L423.0,317.4 L423.9,315.2 L425.0,314.6 L426.3,313.5 L427.8,312.7 L429.8,313.0 L432.1,312.8 L434.3,313.7 L436.0,312.8 L437.6,313.0 L439.5,312.3 L441.9,313.2 L444.6,313.0 L447.3,314.8 L449.9,314.8 L452.5,317.5 L455.1,318.4 L457.6,321.2 L460.1,322.2 L462.9,324.2 L466.2,327.7 L469.7,330.1 L473.3,334.2 L476.7,337.0 L480.2,340.2 L483.6,344.2 L487.2,347.4 L490.7,351.1 L494.0,353.9 L496.9,356.2 L499.6,357.6 L501.8,358.7 L503.4,360.1 L504.6,361.0 L505.7,361.5 L506.8,361.5 L507.7,361.2 L508.3,361.0" fill="none" stroke="#78b83a" stroke-width="1.3" stroke-linejoin="round"/>
<text x="405" y="302.6" font-size="9.85" textLength="95" lengthAdjust="spacingAndGlyphs">MYC Targets in ESCs</text>
<text x="468.6" y="315.3" font-size="5.6" fill="#1a1a1a">Normal <tspan font-style="italic">P</tspan>: 0.0</text>
<text x="468.6" y="322.2" font-size="5.6" fill="#1a1a1a">FDR q-value: 4E-4</text>
<text x="468.6" y="329.1" font-size="5.6" fill="#1a1a1a">NES = 2.01</text>
<text x="363" y="367.9" font-size="10.8" textLength="60.5" lengthAdjust="spacingAndGlyphs" transform="rotate(-90 363 367.9)" stroke="#222" stroke-width="0.3">Enrichment score</text>
<path d="M151.8,438.8 V448.4 M149,445.2 L151.8,448.8 L154.7,445.2" fill="none" stroke="#333" stroke-width="0.95"/>
<text x="159.1" y="448.7" font-size="11.1" textLength="241" lengthAdjust="spacingAndGlyphs">Accessibility at OFF (Repressed) Genes in ESCs</text>
<rect x="115.6" y="530" width="0.5" height="19" fill="rgb(242,242,242)"/>
<rect x="116" y="530" width="1.1" height="19" fill="rgb(169,169,169)"/>
<rect x="118" y="530" width="1.1" height="19" fill="rgb(74,74,74)"/>
<rect x="119" y="530" width="1.1" height="19" fill="rgb(145,145,145)"/>
<rect x="120" y="530" width="1.1" height="19" fill="rgb(60,60,60)"/>
<rect x="121" y="530" width="1.1" height="19" fill="rgb(227,227,227)"/>
<rect x="122" y="530" width="1.1" height="19" fill="rgb(187,187,187)"/>
<rect x="123" y="530" width="1.1" height="19" fill="rgb(140,140,140)"/>
<rect x="124" y="530" width="1.1" height="19" fill="rgb(239,239,239)"/>
<rect x="125" y="530" width="1.1" height="19" fill="rgb(143,143,143)"/>
<rect x="126" y="530" width="1.1" height="19" fill="rgb(15,15,15)"/>
<rect x="127" y="530" width="1.1" height="19" fill="rgb(55,55,55)"/>
<rect x="128" y="530" width="1.1" height="19" fill="rgb(30,30,30)"/>
<rect x="129" y="530" width="1.1" height="19" fill="rgb(169,169,169)"/>
<rect x="130" y="530" width="1.1" height="19" fill="rgb(243,243,243)"/>
<rect x="131" y="530" width="2" height="19" fill="rgb(128,128,128)"/>
<rect x="133" y="530" width="1.1" height="19" fill="rgb(118,118,118)"/>
<rect x="134" y="530" width="1.1" height="19" fill="rgb(242,242,242)"/>
<rect x="135" y="530" width="1.1" height="19" fill="rgb(179,179,179)"/>
<rect x="136" y="530" width="1.1" height="19" fill="rgb(95,95,95)"/>
<rect x="137" y="530" width="1.1" height="19" fill="rgb(33,33,33)"/>
<rect x="138" y="530" width="1.1" height="19" fill="rgb(51,51,51)"/>
<rect x="139" y="530" width="2" height="19" fill="rgb(109,109,109)"/>
<rect x="141" y="530" width="1.1" height="19" fill="rgb(180,180,180)"/>
<rect x="142" y="530" width="1.1" height="19" fill="rgb(28,28,28)"/>
<rect x="143" y="530" width="1.1" height="19" fill="rgb(53,53,53)"/>
<rect x="144" y="530" width="1.1" height="19" fill="rgb(247,247,247)"/>
<rect x="145" y="530" width="1.1" height="19" fill="rgb(227,227,227)"/>
<rect x="146" y="530" width="1.1" height="19" fill="rgb(76,76,76)"/>
<rect x="147" y="530" width="1.1" height="19" fill="rgb(98,98,98)"/>
<rect x="148" y="530" width="1.1" height="19" fill="rgb(225,225,225)"/>
<rect x="149" y="530" width="1.1" height="19" fill="rgb(166,166,166)"/>
<rect x="150" y="530" width="2" height="19" fill="rgb(30,30,30)"/>
<rect x="152" y="530" width="1.1" height="19" fill="rgb(83,83,83)"/>
<rect x="153" y="530" width="1.1" height="19" fill="rgb(47,47,47)"/>
<rect x="154" y="530" width="1.1" height="19" fill="rgb(143,143,143)"/>
<rect x="155" y="530" width="1.1" height="19" fill="rgb(75,75,75)"/>
<rect x="156" y="530" width="1.1" height="19" fill="rgb(237,237,237)"/>
<rect x="157" y="530" width="1.1" height="19" fill="rgb(231,231,231)"/>
<rect x="158" y="530" width="1.1" height="19" fill="rgb(70,70,70)"/>
<rect x="159" y="530" width="1.1" height="19" fill="rgb(121,121,121)"/>
<rect x="160" y="530" width="1.1" height="19" fill="rgb(16,16,16)"/>
<rect x="161" y="530" width="1.1" height="19" fill="rgb(40,40,40)"/>
<rect x="162" y="530" width="1.1" height="19" fill="rgb(97,97,97)"/>
<rect x="163" y="530" width="1.1" height="19" fill="rgb(30,30,30)"/>
<rect x="164" y="530" width="1.1" height="19" fill="rgb(43,43,43)"/>
<rect x="165" y="530" width="1.1" height="19" fill="rgb(64,64,64)"/>
<rect x="166" y="530" width="1.1" height="19" fill="rgb(124,124,124)"/>
<rect x="167" y="530" width="1.1" height="19" fill="rgb(227,227,227)"/>
<rect x="168" y="530" width="1.1" height="19" fill="rgb(52,52,52)"/>
<rect x="169" y="530" width="1.1" height="19" fill="rgb(26,26,26)"/>
<rect x="170" y="530" width="1.1" height="19" fill="rgb(244,244,244)"/>
<rect x="171" y="530" width="1.1" height="19" fill="rgb(140,140,140)"/>
<rect x="172" y="530" width="1.1" height="19" fill="rgb(93,93,93)"/>
<rect x="173" y="530" width="1.1" height="19" fill="rgb(46,46,46)"/>
<rect x="174" y="530" width="1.1" height="19" fill="rgb(29,29,29)"/>
<rect x="175" y="530" width="1.1" height="19" fill="rgb(54,54,54)"/>
<rect x="176" y="530" width="1.1" height="19" fill="rgb(62,62,62)"/>
<rect x="177" y="530" width="1.1" height="19" fill="rgb(91,91,91)"/>
<rect x="178" y="530" width="1.1" height="19" fill="rgb(71,71,71)"/>
<rect x="179" y="530" width="1.1" height="19" fill="rgb(34,34,34)"/>
<rect x="180" y="530" width="1.1" height="19" fill="rgb(21,21,21)"/>
<rect x="181" y="530" width="1.1" height="19" fill="rgb(31,31,31)"/>
<rect x="182" y="530" width="1.1" height="19" fill="rgb(60,60,60)"/>
<rect x="183" y="530" width="1.1" height="19" fill="rgb(238,238,238)"/>
<rect x="184" y="530" width="1.1" height="19" fill="rgb(96,96,96)"/>
<rect x="185" y="530" width="1.1" height="19" fill="rgb(26,26,26)"/>
<rect x="186" y="530" width="1.1" height="19" fill="rgb(142,142,142)"/>
<rect x="187" y="530" width="1.1" height="19" fill="rgb(45,45,45)"/>
<rect x="188" y="530" width="1.1" height="19" fill="rgb(127,127,127)"/>
<rect x="189" y="530" width="1.1" height="19" fill="rgb(58,58,58)"/>
<rect x="190" y="530" width="1.1" height="19" fill="rgb(49,49,49)"/>
<rect x="191" y="530" width="1.1" height="19" fill="rgb(32,32,32)"/>
<rect x="192" y="530" width="1.1" height="19" fill="rgb(232,232,232)"/>
<rect x="193" y="530" width="1.1" height="19" fill="rgb(26,26,26)"/>
<rect x="194" y="530" width="1.1" height="19" fill="rgb(48,48,48)"/>
<rect x="195" y="530" width="1.1" height="19" fill="rgb(40,40,40)"/>
<rect x="197" y="530" width="1.1" height="19" fill="rgb(64,64,64)"/>
<rect x="198" y="530" width="1.1" height="19" fill="rgb(87,87,87)"/>
<rect x="199" y="530" width="1.1" height="19" fill="rgb(95,95,95)"/>
<rect x="200" y="530" width="1.1" height="19" fill="rgb(48,48,48)"/>
<rect x="201" y="530" width="1.1" height="19" fill="rgb(34,34,34)"/>
<rect x="202" y="530" width="1.1" height="19" fill="rgb(16,16,16)"/>
<rect x="203" y="530" width="1.1" height="19" fill="rgb(48,48,48)"/>
<rect x="204" y="530" width="1.1" height="19" fill="rgb(37,37,37)"/>
<rect x="205" y="530" width="1.1" height="19" fill="rgb(20,20,20)"/>
<rect x="206" y="530" width="3" height="19" fill="rgb(66,66,66)"/>
<rect x="209" y="530" width="1.1" height="19" fill="rgb(39,39,39)"/>
<rect x="210" y="530" width="1.1" height="19" fill="rgb(78,78,78)"/>
<rect x="211" y="530" width="1.1" height="19" fill="rgb(44,44,44)"/>
<rect x="212" y="530" width="1.1" height="19" fill="rgb(75,75,75)"/>
<rect x="213" y="530" width="1.1" height="19" fill="rgb(58,58,58)"/>
<rect x="214" y="530" width="1.1" height="19" fill="rgb(52,52,52)"/>
<rect x="215" y="530" width="1.1" height="19" fill="rgb(19,19,19)"/>
<rect x="216" y="530" width="1.1" height="19" fill="rgb(55,55,55)"/>
<rect x="217" y="530" width="1.1" height="19" fill="rgb(31,31,31)"/>
<rect x="218" y="530" width="2" height="19" fill="rgb(65,65,65)"/>
<rect x="220" y="530" width="1.1" height="19" fill="rgb(47,47,47)"/>
<rect x="221" y="530" width="1.1" height="19" fill="rgb(242,242,242)"/>
<rect x="222" y="530" width="1.1" height="19" fill="rgb(63,63,63)"/>
<rect x="223" y="530" width="1.1" height="19" fill="rgb(36,36,36)"/>
<rect x="224" y="530" width="1.1" height="19" fill="rgb(16,16,16)"/>
<rect x="225" y="530" width="2" height="19" fill="rgb(59,59,59)"/>
<rect x="227" y="530" width="1.1" height="19" fill="rgb(79,79,79)"/>
<rect x="228" y="530" width="1.1" height="19" fill="rgb(15,15,15)"/>
<rect x="229" y="530" width="2" height="19" fill="rgb(24,24,24)"/>
<rect x="231" y="530" width="1.1" height="19" fill="rgb(36,36,36)"/>
<rect x="232" y="530" width="1.1" height="19" fill="rgb(45,45,45)"/>
<rect x="233" y="530" width="1.1" height="19" fill="rgb(37,37,37)"/>
<rect x="234" y="530" width="1.1" height="19" fill="rgb(28,28,28)"/>
<rect x="235" y="530" width="1.1" height="19" fill="rgb(66,66,66)"/>
<rect x="115.6" y="530" width="124.9" height="19" fill="none" stroke="#222" stroke-width="0.9"/>
<rect x="115.6" y="549" width="124.9" height="10.3" fill="url(#gsea)"/>
<rect x="115.6" y="474.6" width="124.9" height="55.4" fill="none" stroke="#222" stroke-width="0.9"/>
<line x1="112.4" y1="483.8" x2="115.6" y2="483.8" stroke="#222" stroke-width="1.0"/>
<line x1="112.4" y1="491.8" x2="115.6" y2="491.8" stroke="#222" stroke-width="1.0"/>
<line x1="112.4" y1="499.9" x2="115.6" y2="499.9" stroke="#222" stroke-width="1.0"/>
<line x1="112.4" y1="507.9" x2="115.6" y2="507.9" stroke="#222" stroke-width="1.0"/>
<line x1="112.4" y1="516" x2="115.6" y2="516" stroke="#222" stroke-width="1.0"/>
<line x1="112.4" y1="524" x2="115.6" y2="524" stroke="#222" stroke-width="1.0"/>
<text x="108.8" y="487.1" font-size="9.3" text-anchor="end">0.0</text>
<text x="108.8" y="503.2" font-size="9.3" text-anchor="end">−0.1</text>
<text x="108.8" y="527.3" font-size="9.3" text-anchor="end">−0.25</text>
<path d="M115.7,481.0 L116.5,480.0 L117.7,478.6 L119.1,477.6 L120.7,477.0 L122.4,476.9 L124.3,476.9 L126.3,477.3 L128.5,478.9 L130.8,478.8 L133.3,479.6 L136.0,479.8 L138.6,481.7 L141.2,482.2 L143.7,481.9 L146.3,483.2 L148.9,483.7 L151.5,485.3 L154.1,486.4 L156.7,486.7 L159.3,487.9 L161.9,489.6 L164.5,492.0 L167.1,493.1 L169.7,494.7 L172.3,495.8 L174.9,498.0 L177.5,500.6 L180.1,501.8 L182.7,504.5 L185.3,507.1 L187.9,510.0 L190.6,512.9 L193.1,515.6 L195.4,518.2 L197.6,521.9 L199.6,523.9 L201.4,525.2 L203.1,525.2 L204.8,526.7 L206.5,527.2 L208.3,526.5 L210.0,526.5 L211.7,526.2 L213.4,525.1 L215.1,523.6 L216.8,522.1 L218.6,520.6 L220.3,517.5 L222.1,515.5 L223.9,511.4 L225.5,507.5 L226.9,503.7 L228.1,499.9 L229.4,496.2 L230.8,491.5 L232.3,486.6 L233.3,483.2" fill="none" stroke="#78b83a" stroke-width="1.3" stroke-linejoin="round"/>
<text x="128.7" y="467.5" font-size="9.85" textLength="100.3" lengthAdjust="spacingAndGlyphs">PRC2 Targets in ESCs</text>
<text x="180.1" y="479.8" font-size="5.6" fill="#1a1a1a">Normal <tspan font-style="italic">P</tspan>: 0.0</text>
<text x="180.1" y="486.7" font-size="5.6" fill="#1a1a1a">FDR q-value: 0.03</text>
<text x="180.1" y="493.6" font-size="5.6" fill="#1a1a1a">NES = -1.75</text>
<text x="77.7" y="532.3" font-size="10.8" textLength="60.8" lengthAdjust="spacingAndGlyphs" transform="rotate(-90 77.7 532.3)" stroke="#222" stroke-width="0.3">Enrichment score</text>
<text x="181.3" y="571.4" font-size="9.2" textLength="60" lengthAdjust="spacingAndGlyphs">Closed in PNR</text>
<rect x="307.2" y="530.5" width="0.9" height="19" fill="rgb(246,246,246)"/>
<rect x="308" y="530.5" width="1.1" height="19" fill="rgb(173,173,173)"/>
<rect x="309" y="530.5" width="1.1" height="19" fill="rgb(149,149,149)"/>
<rect x="310" y="530.5" width="1.1" height="19" fill="rgb(184,184,184)"/>
<rect x="311" y="530.5" width="2" height="19" fill="rgb(74,74,74)"/>
<rect x="313" y="530.5" width="1.1" height="19" fill="rgb(33,33,33)"/>
<rect x="314" y="530.5" width="1.1" height="19" fill="rgb(23,23,23)"/>
<rect x="315" y="530.5" width="1.1" height="19" fill="rgb(142,142,142)"/>
<rect x="316" y="530.5" width="1.1" height="19" fill="rgb(32,32,32)"/>
<rect x="317" y="530.5" width="1.1" height="19" fill="rgb(58,58,58)"/>
<rect x="318" y="530.5" width="1.1" height="19" fill="rgb(187,187,187)"/>
<rect x="319" y="530.5" width="1.1" height="19" fill="rgb(239,239,239)"/>
<rect x="320" y="530.5" width="1.1" height="19" fill="rgb(196,196,196)"/>
<rect x="321" y="530.5" width="1.1" height="19" fill="rgb(86,86,86)"/>
<rect x="322" y="530.5" width="1.1" height="19" fill="rgb(122,122,122)"/>
<rect x="323" y="530.5" width="1.1" height="19" fill="rgb(135,135,135)"/>
<rect x="324" y="530.5" width="1.1" height="19" fill="rgb(236,236,236)"/>
<rect x="325" y="530.5" width="1.1" height="19" fill="rgb(147,147,147)"/>
<rect x="326" y="530.5" width="1.1" height="19" fill="rgb(100,100,100)"/>
<rect x="327" y="530.5" width="1.1" height="19" fill="rgb(146,146,146)"/>
<rect x="328" y="530.5" width="1.1" height="19" fill="rgb(239,239,239)"/>
<rect x="329" y="530.5" width="1.1" height="19" fill="rgb(164,164,164)"/>
<rect x="330" y="530.5" width="1.1" height="19" fill="rgb(58,58,58)"/>
<rect x="331" y="530.5" width="1.1" height="19" fill="rgb(130,130,130)"/>
<rect x="332" y="530.5" width="1.1" height="19" fill="rgb(230,230,230)"/>
<rect x="333" y="530.5" width="1.1" height="19" fill="rgb(85,85,85)"/>
<rect x="334" y="530.5" width="1.1" height="19" fill="rgb(244,244,244)"/>
<rect x="336" y="530.5" width="1.1" height="19" fill="rgb(46,46,46)"/>
<rect x="337" y="530.5" width="1.1" height="19" fill="rgb(135,135,135)"/>
<rect x="338" y="530.5" width="1.1" height="19" fill="rgb(157,157,157)"/>
<rect x="339" y="530.5" width="1.1" height="19" fill="rgb(42,42,42)"/>
<rect x="340" y="530.5" width="1.1" height="19" fill="rgb(197,197,197)"/>
<rect x="341" y="530.5" width="2" height="19" fill="rgb(248,248,248)"/>
<rect x="343" y="530.5" width="1.1" height="19" fill="rgb(24,24,24)"/>
<rect x="344" y="530.5" width="1.1" height="19" fill="rgb(156,156,156)"/>
<rect x="345" y="530.5" width="1.1" height="19" fill="rgb(233,233,233)"/>
<rect x="346" y="530.5" width="1.1" height="19" fill="rgb(41,41,41)"/>
<rect x="347" y="530.5" width="1.1" height="19" fill="rgb(85,85,85)"/>
<rect x="348" y="530.5" width="1.1" height="19" fill="rgb(101,101,101)"/>
<rect x="349" y="530.5" width="1.1" height="19" fill="rgb(145,145,145)"/>
<rect x="350" y="530.5" width="1.1" height="19" fill="rgb(98,98,98)"/>
<rect x="351" y="530.5" width="1.1" height="19" fill="rgb(104,104,104)"/>
<rect x="352" y="530.5" width="1.1" height="19" fill="rgb(46,46,46)"/>
<rect x="353" y="530.5" width="2" height="19" fill="rgb(54,54,54)"/>
<rect x="355" y="530.5" width="2" height="19" fill="rgb(63,63,63)"/>
<rect x="357" y="530.5" width="1.1" height="19" fill="rgb(25,25,25)"/>
<rect x="358" y="530.5" width="1.1" height="19" fill="rgb(86,86,86)"/>
<rect x="359" y="530.5" width="1.1" height="19" fill="rgb(40,40,40)"/>
<rect x="360" y="530.5" width="1.1" height="19" fill="rgb(91,91,91)"/>
<rect x="361" y="530.5" width="1.1" height="19" fill="rgb(103,103,103)"/>
<rect x="362" y="530.5" width="1.1" height="19" fill="rgb(119,119,119)"/>
<rect x="363" y="530.5" width="1.1" height="19" fill="rgb(83,83,83)"/>
<rect x="364" y="530.5" width="2" height="19" fill="rgb(34,34,34)"/>
<rect x="366" y="530.5" width="1.1" height="19" fill="rgb(87,87,87)"/>
<rect x="367" y="530.5" width="1.1" height="19" fill="rgb(132,132,132)"/>
<rect x="368" y="530.5" width="1.1" height="19" fill="rgb(122,122,122)"/>
<rect x="369" y="530.5" width="1.1" height="19" fill="rgb(35,35,35)"/>
<rect x="370" y="530.5" width="1.1" height="19" fill="rgb(240,240,240)"/>
<rect x="371" y="530.5" width="1.1" height="19" fill="rgb(83,83,83)"/>
<rect x="372" y="530.5" width="1.1" height="19" fill="rgb(46,46,46)"/>
<rect x="373" y="530.5" width="1.1" height="19" fill="rgb(66,66,66)"/>
<rect x="374" y="530.5" width="1.1" height="19" fill="rgb(47,47,47)"/>
<rect x="375" y="530.5" width="2" height="19" fill="rgb(38,38,38)"/>
<rect x="377" y="530.5" width="1.1" height="19" fill="rgb(121,121,121)"/>
<rect x="378" y="530.5" width="1.1" height="19" fill="rgb(52,52,52)"/>
<rect x="379" y="530.5" width="1.1" height="19" fill="rgb(64,64,64)"/>
<rect x="380" y="530.5" width="1.1" height="19" fill="rgb(33,33,33)"/>
<rect x="381" y="530.5" width="1.1" height="19" fill="rgb(96,96,96)"/>
<rect x="382" y="530.5" width="1.1" height="19" fill="rgb(58,58,58)"/>
<rect x="383" y="530.5" width="1.1" height="19" fill="rgb(28,28,28)"/>
<rect x="384" y="530.5" width="1.1" height="19" fill="rgb(15,15,15)"/>
<rect x="385" y="530.5" width="1.1" height="19" fill="rgb(56,56,56)"/>
<rect x="386" y="530.5" width="1.1" height="19" fill="rgb(138,138,138)"/>
<rect x="387" y="530.5" width="1.1" height="19" fill="rgb(226,226,226)"/>
<rect x="388" y="530.5" width="3" height="19" fill="rgb(42,42,42)"/>
<rect x="391" y="530.5" width="1.1" height="19" fill="rgb(28,28,28)"/>
<rect x="392" y="530.5" width="3" height="19" fill="rgb(39,39,39)"/>
<rect x="395" y="530.5" width="1.1" height="19" fill="rgb(52,52,52)"/>
<rect x="396" y="530.5" width="1.1" height="19" fill="rgb(74,74,74)"/>
<rect x="397" y="530.5" width="1.1" height="19" fill="rgb(49,49,49)"/>
<rect x="398" y="530.5" width="1.1" height="19" fill="rgb(66,66,66)"/>
<rect x="399" y="530.5" width="1.1" height="19" fill="rgb(25,25,25)"/>
<rect x="400" y="530.5" width="1.1" height="19" fill="rgb(47,47,47)"/>
<rect x="401" y="530.5" width="1.1" height="19" fill="rgb(15,15,15)"/>
<rect x="402" y="530.5" width="1.1" height="19" fill="rgb(69,69,69)"/>
<rect x="403" y="530.5" width="2" height="19" fill="rgb(20,20,20)"/>
<rect x="405" y="530.5" width="1.1" height="19" fill="rgb(67,67,67)"/>
<rect x="406" y="530.5" width="1.1" height="19" fill="rgb(60,60,60)"/>
<rect x="407" y="530.5" width="1.1" height="19" fill="rgb(67,67,67)"/>
<rect x="408" y="530.5" width="2" height="19" fill="rgb(46,46,46)"/>
<rect x="410" y="530.5" width="1.1" height="19" fill="rgb(52,52,52)"/>
<rect x="411" y="530.5" width="1.1" height="19" fill="rgb(68,68,68)"/>
<rect x="412" y="530.5" width="1.1" height="19" fill="rgb(23,23,23)"/>
<rect x="413" y="530.5" width="1.1" height="19" fill="rgb(60,60,60)"/>
<rect x="414" y="530.5" width="1.1" height="19" fill="rgb(40,40,40)"/>
<rect x="415" y="530.5" width="1.1" height="19" fill="rgb(49,49,49)"/>
<rect x="416" y="530.5" width="3" height="19" fill="rgb(20,20,20)"/>
<rect x="419" y="530.5" width="1.1" height="19" fill="rgb(60,60,60)"/>
<rect x="420" y="530.5" width="1.1" height="19" fill="rgb(20,20,20)"/>
<rect x="421" y="530.5" width="1.1" height="19" fill="rgb(63,63,63)"/>
<rect x="422" y="530.5" width="2" height="19" fill="rgb(54,54,54)"/>
<rect x="424" y="530.5" width="1.1" height="19" fill="rgb(70,70,70)"/>
<rect x="425" y="530.5" width="1.1" height="19" fill="rgb(21,21,21)"/>
<rect x="426" y="530.5" width="1.1" height="19" fill="rgb(39,39,39)"/>
<rect x="427" y="530.5" width="1.1" height="19" fill="rgb(32,32,32)"/>
<rect x="307.2" y="530.5" width="124.8" height="19" fill="none" stroke="#222" stroke-width="0.9"/>
<rect x="307.2" y="549.5" width="124.8" height="10" fill="url(#gsea)"/>
<rect x="307.2" y="474.8" width="124.8" height="55.7" fill="none" stroke="#222" stroke-width="0.9"/>
<line x1="304" y1="486.5" x2="307.2" y2="486.5" stroke="#222" stroke-width="1.0"/>
<line x1="304" y1="494.7" x2="307.2" y2="494.7" stroke="#222" stroke-width="1.0"/>
<line x1="304" y1="502.8" x2="307.2" y2="502.8" stroke="#222" stroke-width="1.0"/>
<line x1="304" y1="511" x2="307.2" y2="511" stroke="#222" stroke-width="1.0"/>
<line x1="304" y1="519.2" x2="307.2" y2="519.2" stroke="#222" stroke-width="1.0"/>
<line x1="304" y1="527.4" x2="307.2" y2="527.4" stroke="#222" stroke-width="1.0"/>
<text x="299.8" y="489.8" font-size="9.3" text-anchor="end">0.0</text>
<text x="299.8" y="506.1" font-size="9.3" text-anchor="end">−0.1</text>
<text x="299.8" y="530.6" font-size="9.3" text-anchor="end">−0.25</text>
<path d="M307.3,484.5 L308.1,483.1 L309.2,481.1 L310.4,479.4 L311.6,478.2 L313.0,476.6 L314.3,476.2 L315.6,475.9 L316.8,476.7 L318.2,477.0 L319.7,477.6 L321.4,477.2 L323.4,478.3 L325.8,478.5 L328.5,480.1 L331.2,479.6 L333.8,481.3 L336.4,481.0 L338.9,481.4 L341.2,483.0 L343.3,483.0 L345.4,484.3 L347.5,485.6 L349.6,487.2 L351.9,488.4 L354.4,490.3 L357.1,492.3 L359.7,494.3 L362.3,495.4 L364.9,496.7 L367.5,498.7 L370.1,500.8 L372.7,504.2 L375.3,506.6 L377.9,509.8 L380.6,513.1 L383.1,515.9 L385.4,519.0 L387.5,521.1 L389.6,523.7 L391.8,525.6 L394.0,526.1 L396.1,527.3 L397.9,526.6 L399.5,526.1 L401.2,526.5 L402.9,525.1 L404.7,524.4 L406.4,522.2 L408.1,520.0 L409.9,517.7 L411.6,516.2 L413.4,511.7 L415.2,507.4 L416.8,503.9 L418.2,500.6 L419.5,496.9 L420.7,493.6 L422.0,490.7 L423.2,488.1 L424.1,486.3" fill="none" stroke="#78b83a" stroke-width="1.3" stroke-linejoin="round"/>
<text x="318.5" y="467.6" font-size="9.85" textLength="102.3" lengthAdjust="spacingAndGlyphs">SUZ12 Targets in ESCs</text>
<text x="371.4" y="479.8" font-size="5.6" fill="#1a1a1a">Normal <tspan font-style="italic">P</tspan>: 0.0</text>
<text x="371.4" y="486.7" font-size="5.6" fill="#1a1a1a">FDR q-value: 0.04</text>
<text x="371.4" y="493.6" font-size="5.6" fill="#1a1a1a">NES = -1.71</text>
<text x="268.9" y="532" font-size="10.8" textLength="60" lengthAdjust="spacingAndGlyphs" transform="rotate(-90 268.9 532)" stroke="#222" stroke-width="0.3">Enrichment score</text>
<text x="73.6" y="623.8" font-size="10.8" textLength="81.5" lengthAdjust="spacingAndGlyphs">Motif Enrichment</text>
<rect x="38.8" y="631.2" width="69.2" height="13.2" fill="#1c8cc4"/>
<rect x="108" y="631.2" width="80.8" height="13.2" fill="#ef8a74"/>
<text x="73.4" y="641.3" font-size="9.3" text-anchor="middle" fill="#fff">PS</text>
<text x="148.4" y="641.3" font-size="9.3" text-anchor="middle" fill="#fff">PNR</text>
<rect x="38.8" y="644.4" width="14.1" height="20.3" fill="#f9c80e"/>
<rect x="52.6" y="644.4" width="14.1" height="20.3" fill="#f7b414"/>
<rect x="66.4" y="644.4" width="14.2" height="20.3" fill="#c8d42a"/>
<rect x="80.3" y="644.4" width="14.1" height="20.3" fill="#f8d812"/>
<rect x="94.1" y="644.4" width="14.2" height="20.3" fill="#f59a14"/>
<rect x="108" y="644.4" width="13.7" height="20.3" fill="#f5a014"/>
<rect x="121.4" y="644.4" width="13.7" height="20.3" fill="#f8c812"/>
<rect x="134.8" y="644.4" width="13.8" height="20.3" fill="#f8cc10"/>
<rect x="148.3" y="644.4" width="13.7" height="20.3" fill="#e8441a"/>
<rect x="161.7" y="644.4" width="13.8" height="20.3" fill="#e8441a"/>
<rect x="175.2" y="644.4" width="13.9" height="20.3" fill="#f08c14"/>
<rect x="38.8" y="664.4" width="14.1" height="20.4" fill="#e0141a"/>
<rect x="52.6" y="664.4" width="14.1" height="20.4" fill="#d4141a"/>
<rect x="66.4" y="664.4" width="14.2" height="20.4" fill="#f07c14"/>
<rect x="80.3" y="664.4" width="14.1" height="20.4" fill="#e8101a"/>
<rect x="94.1" y="664.4" width="14.2" height="20.4" fill="#e0141a"/>
<rect x="108" y="664.4" width="13.7" height="20.4" fill="#a81812"/>
<rect x="121.4" y="664.4" width="13.7" height="20.4" fill="#a81812"/>
<rect x="134.8" y="664.4" width="13.8" height="20.4" fill="#a61812"/>
<rect x="148.3" y="664.4" width="13.7" height="20.4" fill="#a81812"/>
<rect x="161.7" y="664.4" width="13.8" height="20.4" fill="#a41812"/>
<rect x="175.2" y="664.4" width="13.9" height="20.4" fill="#a81812"/>
<rect x="38.8" y="684.5" width="14.1" height="20.3" fill="#dc1218"/>
<rect x="52.6" y="684.5" width="14.1" height="20.3" fill="#e6101a"/>
<rect x="66.4" y="684.5" width="14.2" height="20.3" fill="#ec5c14"/>
<rect x="80.3" y="684.5" width="14.1" height="20.3" fill="#e8101a"/>
<rect x="94.1" y="684.5" width="14.2" height="20.3" fill="#a81a14"/>
<rect x="108" y="684.5" width="13.7" height="20.3" fill="#d81818"/>
<rect x="121.4" y="684.5" width="13.7" height="20.3" fill="#d01818"/>
<rect x="134.8" y="684.5" width="13.8" height="20.3" fill="#e8301a"/>
<rect x="148.3" y="684.5" width="13.7" height="20.3" fill="#d01818"/>
<rect x="161.7" y="684.5" width="13.8" height="20.3" fill="#e01018"/>
<rect x="175.2" y="684.5" width="13.9" height="20.3" fill="#dc1418"/>
<rect x="38.8" y="704.5" width="14.1" height="20.6" fill="#e4301a"/>
<rect x="52.6" y="704.5" width="14.1" height="20.6" fill="#ec4a16"/>
<rect x="66.4" y="704.5" width="14.2" height="20.6" fill="#f8e810"/>
<rect x="80.3" y="704.5" width="14.1" height="20.6" fill="#f28a14"/>
<rect x="94.1" y="704.5" width="14.2" height="20.6" fill="#e82c1a"/>
<rect x="108" y="704.5" width="13.7" height="20.6" fill="#f2901a"/>
<rect x="121.4" y="704.5" width="13.7" height="20.6" fill="#c81818"/>
<rect x="134.8" y="704.5" width="13.8" height="20.6" fill="#a01810"/>
<rect x="148.3" y="704.5" width="13.7" height="20.6" fill="#c81818"/>
<rect x="161.7" y="704.5" width="13.8" height="20.6" fill="#cc1818"/>
<rect x="175.2" y="704.5" width="13.9" height="20.6" fill="#d81418"/>
<rect x="38.8" y="724.8" width="14.1" height="20.3" fill="#f5961a"/>
<rect x="52.6" y="724.8" width="14.1" height="20.3" fill="#f08214"/>
<rect x="66.4" y="724.8" width="14.2" height="20.3" fill="#f8e010"/>
<rect x="80.3" y="724.8" width="14.1" height="20.3" fill="#f8c014"/>
<rect x="94.1" y="724.8" width="14.2" height="20.3" fill="#ea4418"/>
<rect x="108" y="724.8" width="13.7" height="20.3" fill="#ec6a14"/>
<rect x="121.4" y="724.8" width="13.7" height="20.3" fill="#ec5a18"/>
<rect x="134.8" y="724.8" width="13.8" height="20.3" fill="#e4201a"/>
<rect x="148.3" y="724.8" width="13.7" height="20.3" fill="#e4201a"/>
<rect x="161.7" y="724.8" width="13.8" height="20.3" fill="#e82c1a"/>
<rect x="175.2" y="724.8" width="13.9" height="20.3" fill="#e82c1a"/>
<line x1="108" y1="631.2" x2="108" y2="779.4" stroke="#222" stroke-width="1"/>
<text x="35.8" y="657.8" font-size="9.4" text-anchor="end">EBF1</text>
<text x="35.8" y="677.9" font-size="9.4" text-anchor="end">ETSI</text>
<text x="35.8" y="697.9" font-size="9.4" text-anchor="end">RUNX</text>
<text x="35.8" y="718" font-size="9.4" text-anchor="end">E2A</text>
<text x="35.8" y="738.2" font-size="9.4" text-anchor="end">ZBTB18</text>
<text x="49" y="751.3" font-size="9.2" text-anchor="end" transform="rotate(-90 49 751.3)">S01</text>
<text x="62.8" y="751.3" font-size="9.2" text-anchor="end" transform="rotate(-90 62.8 751.3)">S19</text>
<text x="76.6" y="751.3" font-size="9.2" text-anchor="end" transform="rotate(-90 76.6 751.3)">S43</text>
<text x="90.5" y="751.3" font-size="9.2" text-anchor="end" transform="rotate(-90 90.5 751.3)">S36</text>
<text x="104.3" y="751.3" font-size="9.2" text-anchor="end" transform="rotate(-90 104.3 751.3)">S07</text>
<text x="118" y="751.3" font-size="9.2" text-anchor="end" transform="rotate(-90 118 751.3)">S31</text>
<text x="131.4" y="751.3" font-size="9.2" text-anchor="end" transform="rotate(-90 131.4 751.3)">S09</text>
<text x="144.9" y="751.3" font-size="9.2" text-anchor="end" transform="rotate(-90 144.9 751.3)">S37</text>
<text x="158.3" y="751.3" font-size="9.2" text-anchor="end" transform="rotate(-90 158.3 751.3)">S27</text>
<text x="171.8" y="751.3" font-size="9.2" text-anchor="end" transform="rotate(-90 171.8 751.3)">S1023</text>
<text x="185.3" y="751.3" font-size="9.2" text-anchor="end" transform="rotate(-90 185.3 751.3)">S46</text>
<text x="193.3" y="644.8" font-size="8.9" textLength="32" lengthAdjust="spacingAndGlyphs">AUROC</text>
<rect x="193" y="656.3" width="11" height="49.3" fill="url(#cbar)"/>
<line x1="204.8" y1="656.3" x2="204.8" y2="707.9" stroke="#333" stroke-width="0.9"/>
<line x1="204.8" y1="656.5" x2="208.5" y2="656.5" stroke="#333" stroke-width="0.9"/>
<text x="212.3" y="659.4" font-size="8.3">0.7</text>
<line x1="204.8" y1="669.4" x2="208.5" y2="669.4" stroke="#333" stroke-width="0.9"/>
<text x="212.3" y="672.2" font-size="8.3">0.6</text>
<line x1="204.8" y1="682.2" x2="208.5" y2="682.2" stroke="#333" stroke-width="0.9"/>
<text x="212.3" y="685.1" font-size="8.3">0.5</text>
<line x1="204.8" y1="695" x2="208.5" y2="695" stroke="#333" stroke-width="0.9"/>
<text x="212.3" y="697.9" font-size="8.3">0.4</text>
<line x1="204.8" y1="707.9" x2="208.5" y2="707.9" stroke="#333" stroke-width="0.9"/>
<text x="212.3" y="710.8" font-size="8.3">0.3</text>
<line x1="282.3" y1="609.4" x2="282.3" y2="757.3" stroke="#333" stroke-width="1"/>
<line x1="281.8" y1="757" x2="495.5" y2="757" stroke="#333" stroke-width="1"/>
<line x1="279.3" y1="749.8" x2="282.3" y2="749.8" stroke="#333" stroke-width="0.9"/>
<text x="275" y="753.1" font-size="9.5" text-anchor="end">0</text>
<line x1="279.3" y1="722.5" x2="282.3" y2="722.5" stroke="#333" stroke-width="0.9"/>
<text x="275" y="725.8" font-size="9.5" text-anchor="end">50</text>
<line x1="279.3" y1="695.1" x2="282.3" y2="695.1" stroke="#333" stroke-width="0.9"/>
<text x="275" y="698.4" font-size="9.5" text-anchor="end">100</text>
<line x1="279.3" y1="667.8" x2="282.3" y2="667.8" stroke="#333" stroke-width="0.9"/>
<text x="275" y="671.1" font-size="9.5" text-anchor="end">150</text>
<line x1="279.3" y1="640.5" x2="282.3" y2="640.5" stroke="#333" stroke-width="0.9"/>
<text x="275" y="643.8" font-size="9.5" text-anchor="end">200</text>
<line x1="279.3" y1="613.1" x2="282.3" y2="613.1" stroke="#333" stroke-width="0.9"/>
<text x="275" y="616.4" font-size="9.5" text-anchor="end">250</text>
<text x="250.8" y="728.7" font-size="10" textLength="92" lengthAdjust="spacingAndGlyphs" transform="rotate(-90 250.8 728.7)" stroke="#222" stroke-width="0.3">Expression (Z-Score CPM)</text>
<line x1="307.2" y1="757" x2="307.2" y2="759.8" stroke="#333" stroke-width="0.9"/>
<line x1="348.1" y1="757" x2="348.1" y2="759.8" stroke="#333" stroke-width="0.9"/>
<line x1="389" y1="757" x2="389" y2="759.8" stroke="#333" stroke-width="0.9"/>
<line x1="430" y1="757" x2="430" y2="759.8" stroke="#333" stroke-width="0.9"/>
<line x1="471" y1="757" x2="471" y2="759.8" stroke="#333" stroke-width="0.9"/>
<text x="310.6" y="771.5" font-size="9.2" text-anchor="end" font-style="italic" transform="rotate(-45 310.6 771.5)">RUNX1</text>
<text x="351.5" y="771.5" font-size="9.2" text-anchor="end" font-style="italic" transform="rotate(-45 351.5 771.5)">ZBTB18</text>
<text x="392.4" y="771.5" font-size="9.2" text-anchor="end" font-style="italic" transform="rotate(-45 392.4 771.5)">TCF4 (E2A)</text>
<text x="433.4" y="771.5" font-size="9.2" text-anchor="end" font-style="italic" transform="rotate(-45 433.4 771.5)">ERG (ETS1)</text>
<text x="474.4" y="771.5" font-size="9.2" text-anchor="end" font-style="italic" transform="rotate(-45 474.4 771.5)">EBF1</text>
<text x="389.3" y="821.6" font-size="10.7" text-anchor="middle" textLength="67.7" lengthAdjust="spacingAndGlyphs" stroke="#222" stroke-width="0.3">Transcription Factor</text>
<line x1="299.5" y1="731.5" x2="299.5" y2="734.5" stroke="#333" stroke-width="0.9"/>
<rect x="292.5" y="731.8" width="14" height="2.7" fill="#e8666a" stroke="#333" stroke-width="0.9"/>
<line x1="292.5" y1="733.2" x2="306.5" y2="733.2" stroke="#333" stroke-width="1"/>
<line x1="314.8" y1="725.8" x2="314.8" y2="745" stroke="#333" stroke-width="0.9"/>
<rect x="307.5" y="727.5" width="14.5" height="10" fill="#1e84ba" stroke="#333" stroke-width="0.9"/>
<line x1="307.5" y1="733" x2="322" y2="733" stroke="#333" stroke-width="1"/>
<circle cx="314.6" cy="675.4" r="1" fill="#222"/>
<path d="M296.6,669.5 V665.3 H315.7 V669.5" fill="none" stroke="#333" stroke-width="0.9"/>
<text x="306.1" y="661" font-size="9" text-anchor="middle" font-style="italic">NS</text>
<line x1="340.6" y1="746" x2="340.6" y2="750.5" stroke="#333" stroke-width="0.9"/>
<rect x="333.8" y="748" width="13.7" height="2.5" fill="#e8666a" stroke="#333" stroke-width="0.9"/>
<line x1="333.8" y1="749.5" x2="347.5" y2="749.5" stroke="#333" stroke-width="1"/>
<line x1="356" y1="740.5" x2="356" y2="749" stroke="#333" stroke-width="0.9"/>
<rect x="349" y="741.3" width="14" height="7" fill="#1e84ba" stroke="#333" stroke-width="0.9"/>
<line x1="349" y1="744.5" x2="363" y2="744.5" stroke="#333" stroke-width="1"/>
<circle cx="341" cy="746.5" r="1" fill="#222"/>
<circle cx="356" cy="727.5" r="1" fill="#222"/>
<path d="M338.8,718.8 V714.5 H358 V718.8" fill="none" stroke="#333" stroke-width="0.9"/>
<text x="348.4" y="710" font-size="9" text-anchor="middle" font-style="italic">NS</text>
<line x1="381.2" y1="688.6" x2="381.2" y2="734.2" stroke="#333" stroke-width="0.9"/>
<rect x="374.3" y="708.8" width="13.9" height="22.5" fill="#e8666a" stroke="#333" stroke-width="0.9"/>
<line x1="374.3" y1="713.5" x2="388.2" y2="713.5" stroke="#333" stroke-width="1"/>
<line x1="396.8" y1="736.5" x2="396.8" y2="749.2" stroke="#333" stroke-width="0.9"/>
<rect x="389.6" y="736.5" width="14.4" height="11.5" fill="#1e84ba" stroke="#333" stroke-width="0.9"/>
<line x1="389.6" y1="745.2" x2="404" y2="745.2" stroke="#333" stroke-width="1"/>
<circle cx="396.8" cy="719" r="1" fill="#222"/>
<path d="M380,683.7 V679.4 H398.8 V683.7" fill="none" stroke="#333" stroke-width="0.9"/>
<text x="389.4" y="677.5" font-size="8" text-anchor="middle">**</text>
<line x1="422.9" y1="616" x2="422.9" y2="720.4" stroke="#333" stroke-width="0.9"/>
<rect x="416.1" y="657.8" width="13.6" height="49" fill="#e8666a" stroke="#333" stroke-width="0.9"/>
<line x1="416.1" y1="693" x2="429.7" y2="693" stroke="#333" stroke-width="1"/>
<line x1="438.1" y1="713.4" x2="438.1" y2="750" stroke="#333" stroke-width="0.9"/>
<rect x="431.1" y="719.2" width="13.9" height="25.1" fill="#1e84ba" stroke="#333" stroke-width="0.9"/>
<line x1="431.1" y1="727.9" x2="445" y2="727.9" stroke="#333" stroke-width="1"/>
<path d="M422.5,614 V609.6 H441.5 V614" fill="none" stroke="#333" stroke-width="0.9"/>
<text x="432" y="607.5" font-size="8" text-anchor="middle">**</text>
<line x1="464.1" y1="737.7" x2="464.1" y2="743.4" stroke="#333" stroke-width="0.9"/>
<rect x="457.1" y="737.7" width="13.9" height="5.7" fill="#e8666a" stroke="#333" stroke-width="0.9"/>
<line x1="457.1" y1="742.9" x2="471" y2="742.9" stroke="#333" stroke-width="1"/>
<line x1="479.3" y1="742.9" x2="479.3" y2="750" stroke="#333" stroke-width="0.9"/>
<rect x="472.4" y="744.3" width="13.8" height="3.7" fill="#1e84ba" stroke="#333" stroke-width="0.9"/>
<line x1="472.4" y1="745.8" x2="486.2" y2="745.8" stroke="#333" stroke-width="1"/>
<circle cx="463.7" cy="721.8" r="1" fill="#222"/>
<path d="M462.9,718.4 V714.6 H482.5 V718.4" fill="none" stroke="#333" stroke-width="0.9"/>
<text x="472.7" y="712.5" font-size="8" text-anchor="middle">*</text>
<text x="482" y="655" font-size="8.9">Response</text>
<line x1="487.5" y1="660.8" x2="487.5" y2="673.2" stroke="#333" stroke-width="0.9"/>
<rect x="482.5" y="664" width="10" height="6" fill="#e8666a" stroke="#333" stroke-width="0.9"/>
<line x1="482.5" y1="667" x2="492.5" y2="667" stroke="#333" stroke-width="0.9"/>
<text x="496" y="670.4" font-size="9.3">PNR</text>
<line x1="487.5" y1="675.3" x2="487.5" y2="687.7" stroke="#333" stroke-width="0.9"/>
<rect x="482.5" y="678.5" width="10" height="6" fill="#1e84ba" stroke="#333" stroke-width="0.9"/>
<line x1="482.5" y1="681.5" x2="492.5" y2="681.5" stroke="#333" stroke-width="0.9"/>
<text x="496" y="684.9" font-size="9.3">PS</text>
</svg></body></html>
